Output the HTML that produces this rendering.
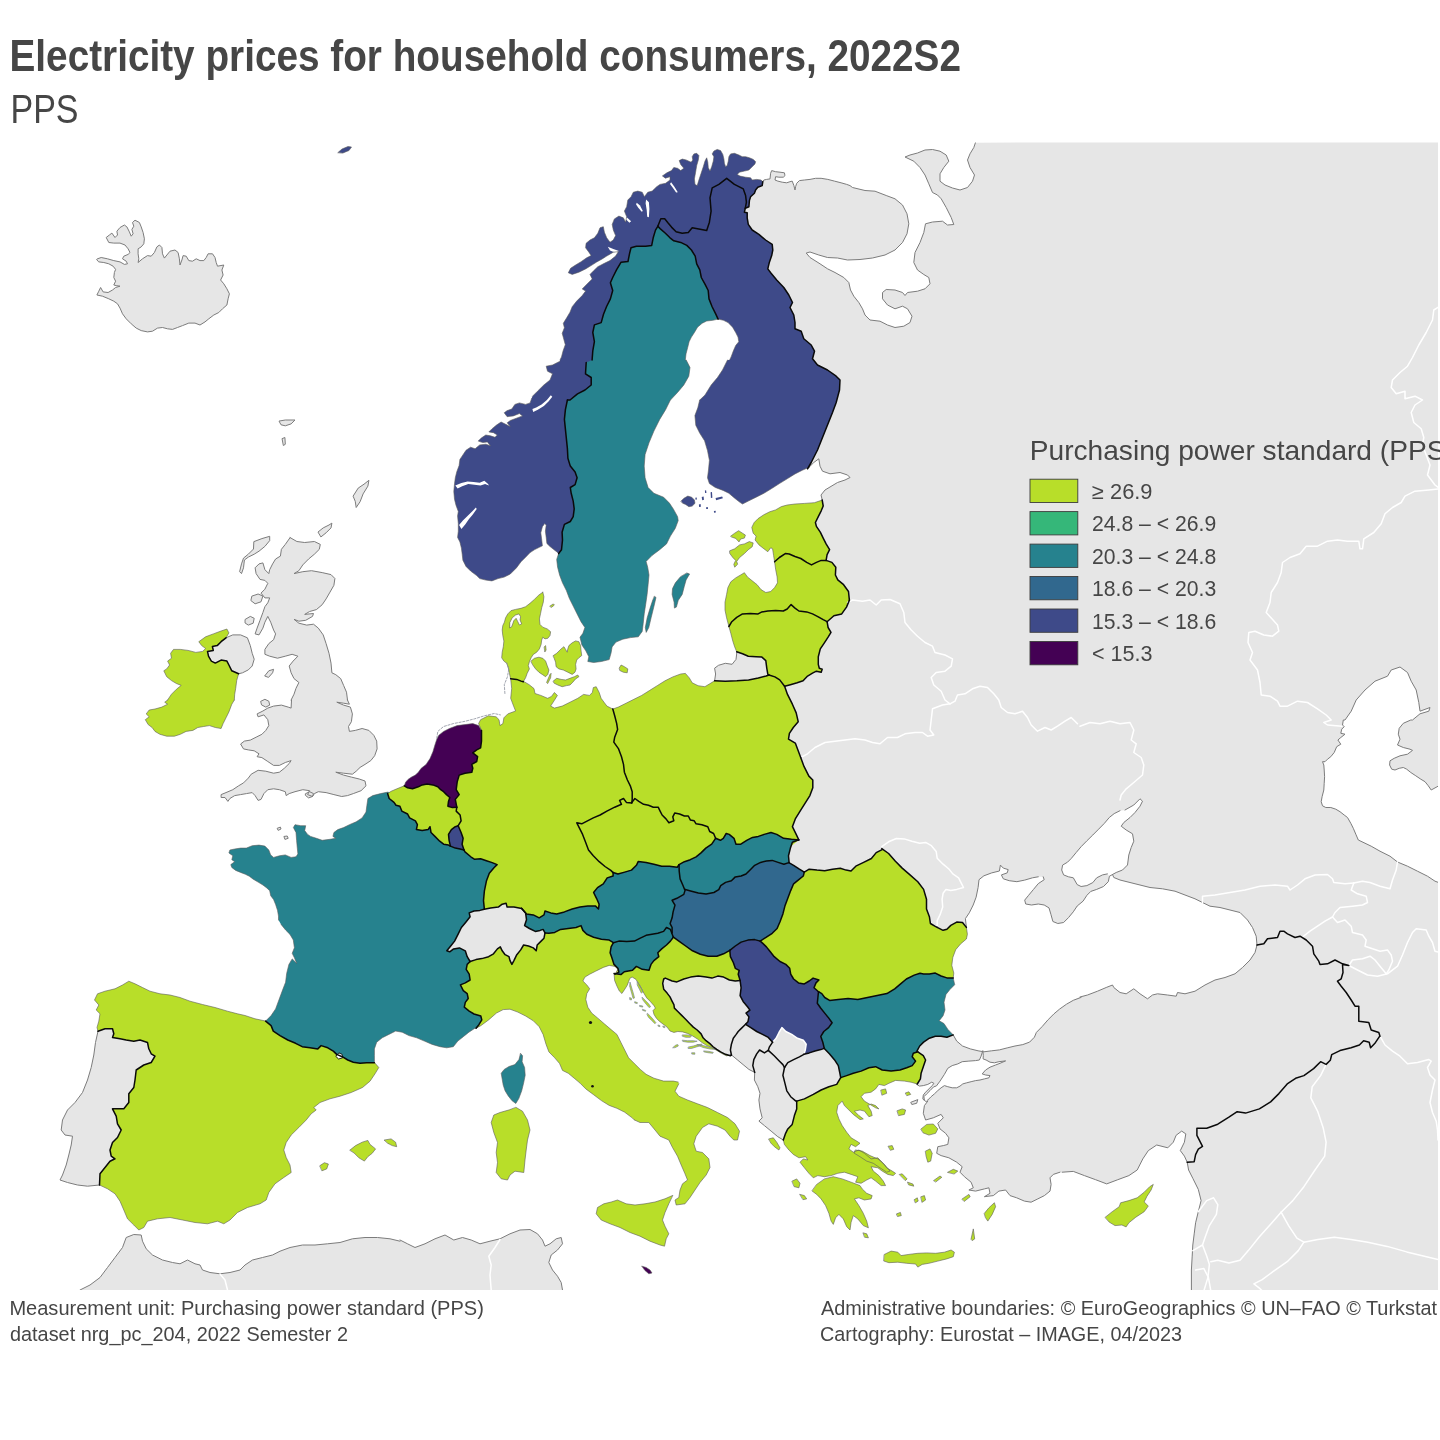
<!DOCTYPE html>
<html lang="en"><head><meta charset="utf-8"><title>Electricity prices for household consumers, 2022S2</title>
<style>
html,body{margin:0;padding:0;background:#fff}
body{width:1440px;height:1440px;position:relative;overflow:hidden;font-family:"Liberation Sans",sans-serif}
.t{font-family:"Liberation Sans",sans-serif;fill:#464646}
</style></head><body>
<svg width="1440" height="1440" viewBox="0 0 1440 1440" style="position:absolute;left:0;top:0">
<defs><clipPath id="mc"><rect x="0" y="142.5" width="1438" height="1147.5"/></clipPath></defs>
<g clip-path="url(#mc)" stroke-linejoin="round" stroke-linecap="round">
<path d="M762.8,181.7 L763.9,180 L766.7,179.4 L770,178.9 L770.6,173.3 L771.7,170.6 L775.6,171.7 L780,172.2 L784.4,172.8 L785,175.6 L783.3,177.2 L778.9,177.2 L775.6,176.7 L775,180 L777.8,181.1 L782.2,182.2 L786.7,182.8 L790,181.7 L792.2,181.1 L793.9,185.6 L795,190 L795.6,186.7 L796.7,183.3 L799.4,180.6 L804.4,180 L810,179.4 L815.6,178.3 L821.1,178.3 L827.8,179.4 L834.4,181.1 L841.1,182.8 L846.7,184.4 L850,185.6 L852.5,187.5 L865,190.5 L875,191.2 L886.2,195.5 L895,198.8 L902.5,205 L907,213.8 L908.8,223.8 L907,233.8 L902.5,242.5 L895,250 L885,255 L872.5,258 L860,259.5 L847.5,260 L837.5,258 L827.5,257.5 L818.8,255 L810,252 L806.2,253 L810,257.5 L820,263.8 L827.5,268.8 L835,272.5 L843.8,277.5 L848.8,282.5 L850.5,290 L853.8,296.2 L858.8,302.5 L862.5,308.8 L865,315 L870,320 L880,321.2 L887.5,325 L895,327.5 L903.8,326.2 L910,322.5 L912,316.2 L907.5,308.8 L902.5,306.2 L895,308.8 L887.5,305 L882.5,298.8 L882.5,292.5 L886.2,289.5 L895,290 L902.5,292.5 L905,295.5 L907.5,292.5 L917.5,291.2 L925,288.8 L930,283.8 L928.8,277.5 L923.8,274.5 L917.5,270 L913.8,262.5 L915,252.5 L920,242.5 L923.8,232.5 L925.5,223.8 L932.5,222 L942.5,221.2 L947.5,225 L953.8,224.5 L951.2,217.5 L946.2,207.5 L941.2,198.8 L937.5,195 L932.5,192.5 L928.8,183.8 L925,175 L920,167.5 L913.8,161.2 L905,157 L910,155 L917.5,153 L925,150 L932.5,149.5 L940,151.2 L946.2,155 L948.8,161.2 L943.8,167.5 L940,173.8 L940,181.2 L945,185 L952.5,188 L960,190 L967.5,187.5 L972.5,181.2 L974.5,175 L970,167.5 L967.5,160 L970,153.8 L973.8,147.5 L975.5,142.5 L1443,137.5 L1443,1295 L1191.4,1295 L1191.4,1290.8 L1191.4,1270 L1192.2,1256.1 L1192.8,1245 L1194.2,1233.9 L1195.6,1222.8 L1198.3,1211.7 L1201.1,1200.6 L1198.3,1189.4 L1192.8,1178.3 L1188.6,1170 L1187.2,1162.2 L1184.4,1156.1 L1180.3,1150.6 L1184.4,1142.2 L1185.8,1133.9 L1181.7,1131.1 L1176.1,1135.3 L1173.3,1142.2 L1167.8,1147.8 L1156.7,1145 L1148.3,1150.6 L1142.8,1158.9 L1137.2,1170 L1128.9,1175.6 L1117.8,1179.7 L1106.7,1183.9 L1095.6,1179.7 L1084.4,1175.6 L1073.3,1171.4 L1062.2,1172.2 L1060,1172.2 L1053.3,1174.4 L1050,1177.8 L1051.1,1184.4 L1050,1191.1 L1044.4,1195.6 L1037.8,1198.9 L1031.1,1202.2 L1024.4,1201.1 L1016.7,1197.8 L1010,1195.6 L1005.6,1190 L998.9,1191.1 L993.3,1195.6 L984.4,1196.7 L990,1193.3 L988.9,1187.8 L984.4,1188.9 L975.6,1191.1 L968.9,1190 L973.3,1187.8 L971.1,1182.2 L964.4,1176.7 L960,1172.2 L962.2,1166.7 L956.7,1162.2 L948.9,1157.8 L941.1,1155.6 L936.7,1153.3 L937.8,1146.7 L943.3,1145.6 L947.8,1144.4 L948.9,1137.8 L945.6,1133.3 L940,1128.9 L937.8,1123.3 L943.3,1117.8 L941.1,1114.4 L933.3,1117.8 L925.6,1120 L923.3,1113.3 L924.4,1105.6 L927.8,1101.1 L924.4,1100.6 L922.8,1098.9 L923.3,1095 L925.6,1092.2 L928.9,1088.9 L932.2,1085.6 L933.9,1083.3 L931.7,1082.2 L927.8,1084.4 L923.3,1085.6 L919.4,1086.1 L916.7,1084.4 L905,1075 L900,1040 L890,950 L780,895 L770,850 L770,800 L740,720 L720,700 L714.6,680.8 L715.6,674 L714.6,668.2 L718.5,665.3 L725.3,663.3 L732.1,664.3 L736,659.4 L736.9,652.1 L750,640 L790,610 L800,570 L800,530 L815,510 L822.2,500.1 L822.5,501 L821,495 L825,490 L830,487 L837.5,482.5 L845,480 L850,477.5 L847.5,475 L840,472.5 L830,473.8 L822.5,471.2 L820,466.2 L818.8,458.8 L813.8,462.5 L807.5,468.8 L790,440 L770,300 L735,240 L740,205 L752,186 L762,180Z" fill="#e6e6e6"/>
<path d="M80,1290 L90,1285 L100,1277.5 L107.5,1267.5 L115,1257.5 L122.5,1247.5 L126.2,1237.5 L133.8,1234.5 L141.2,1235 L142.5,1241.2 L146.2,1248.8 L152.5,1255 L162.5,1260 L172.5,1262.5 L180,1263.8 L187.5,1260 L195,1263.8 L200,1265 L202.5,1270 L210,1272.5 L220,1273.8 L230,1272.5 L240,1270 L245,1265 L252.5,1260 L262.5,1257.5 L272.5,1255 L280,1251.2 L290,1247.5 L302.5,1245 L315,1245 L327.5,1243.8 L340,1242.5 L352.5,1238.8 L365,1237.5 L377.5,1237.5 L390,1238.8 L400,1241.2 L400,1240 L407.5,1243.8 L415,1247.5 L425,1243.8 L435,1238.8 L445,1235 L453.8,1240 L462.5,1237.5 L471.2,1240 L480,1243.8 L490,1241.2 L500,1238.8 L510,1233.8 L520,1230 L530,1229.5 L537.5,1233.8 L542.5,1240 L545,1246.2 L550,1243.8 L556.2,1238.8 L561.2,1237.5 L562.5,1243.8 L557.5,1250 L551.2,1255 L548.8,1262.5 L552.5,1270 L557.5,1276.2 L561.2,1282.5 L562.5,1290 L562.5,1295 L80,1295Z" fill="#e6e6e6"/>
<path d="M98,1031.2 L95.5,1042.5 L93.8,1055 L91.2,1067.5 L87.5,1080 L82.5,1092.5 L75,1102.5 L67.5,1110 L62.5,1120 L61.2,1130 L65,1135 L72.5,1136.2 L71.2,1145 L68.8,1155 L66.2,1165 L62.5,1175 L60,1180 L67.5,1182.5 L77.5,1185 L87.5,1186.2 L99.5,1185 L120,1185 L140,1140 L170,1070 L165,1035 L115,1022 L100,1027Z" fill="#e6e6e6"/>
<path d="M226,637.8 L232.8,634.9 L240.6,634.9 L247.4,637.8 L250.3,645.6 L252.2,653.3 L254.2,659.2 L252.2,666 L248.3,669.9 L242.5,672.8 L238.6,673.8 L220,670 L205,650Z" fill="#e6e6e6"/>
<path d="M290.1,537.6 L296.9,541.5 L304.7,542.5 L314.4,541.5 L320.3,544.4 L319.3,549.3 L314.4,554.2 L308.6,559 L302.8,564.9 L298.9,570.7 L294,573.6 L302.8,571.7 L311.5,570.7 L322.2,572.6 L331,574.6 L334.9,578.5 L333.9,585.3 L330,592.1 L326.1,598.9 L322.2,604.7 L316.4,609.6 L309.6,611.5 L304.7,614.4 L313.5,613.5 L312.5,616.4 L305.7,620.3 L298.9,621.2 L294,619.3 L298.9,623.2 L306.7,625.1 L313.5,624.2 L318.3,628.1 L323.2,634.9 L326.1,643.6 L329,653.3 L331,663.1 L331.9,672.8 L335.8,674.7 L340.7,678.6 L343.6,685.4 L346.5,692.2 L347.5,700 L349.4,704.2 L343.6,703.2 L336.8,702.2 L343.6,705.1 L350.4,707.1 L352.4,713.9 L351.4,721.7 L348.5,726.5 L349.4,731.4 L355.3,730.4 L362.1,728.5 L368.9,730.4 L373.8,735.3 L376.7,741.1 L377.1,748.9 L374.7,755.7 L370.8,760.6 L365,764.4 L360.1,767.4 L356.2,771.2 L352.4,774.2 L343.6,773.2 L335.8,772.2 L343.6,775.1 L351.4,777.1 L359.2,779 L365,781 L366,785.8 L361.1,790.7 L353.3,793.6 L347.5,795.6 L341.7,796.5 L333.9,794.6 L326.1,792.6 L318.3,791.7 L314.4,793.6 L312.5,796.5 L307.6,794.6 L309.6,790.7 L302.8,789.7 L295,791.7 L289.2,793.6 L286.2,795.6 L285.3,791.7 L279.4,789.7 L273.6,788.8 L267.8,789.7 L263.9,793.6 L261,799.4 L258.1,800.4 L255.1,795.6 L252.2,792.6 L246.4,793.6 L240.6,794.6 L234.7,795.6 L229.9,798.5 L227.9,801.4 L225,797.5 L221.1,797.5 L221.1,794.6 L226,792.6 L232.8,789.7 L238.6,785.8 L243.5,782.9 L248.3,778.1 L251.2,774.2 L258.1,770.3 L265.8,771.2 L273.6,773.2 L279.4,772.2 L284.3,768.3 L289.2,763.5 L291.1,760.6 L285.3,762.5 L279.4,765.4 L273.6,765.4 L267.8,761.5 L261.9,757.6 L257.1,756.7 L259,753.8 L254.2,750.8 L248.3,749.9 L243.5,748.9 L240.6,744 L244.4,741.1 L250.3,740.1 L256.1,737.2 L261.9,734.3 L265.8,730.4 L268.8,725.6 L267.8,719.7 L263.9,714.9 L258.1,716.8 L257.1,713.9 L262.9,711 L267.8,708.1 L273.6,706.1 L281.4,705.1 L288.2,707.1 L291.1,708.1 L291.5,700.1 L291.1,700 L294,694.2 L296,688.3 L298.9,682.5 L294,678.6 L291.1,672.8 L289.2,666 L293.1,661.1 L297.9,656.2 L292.1,654.3 L285.3,656.2 L277.5,658.2 L269.7,656.2 L264.9,654.3 L264.9,649.4 L268.8,643.6 L273.6,639.7 L275.6,633.9 L273.6,630 L270.7,622.2 L267.8,616.4 L264.9,622.2 L262.9,628.1 L259,634.9 L255.1,633.9 L257.1,628.1 L260,620.3 L262.9,612.5 L264.9,606.7 L267.8,602.8 L269.7,597.9 L264.9,597.9 L261,593.1 L264.9,589.2 L267.8,583.3 L264.9,580.4 L260,579.4 L256.1,573.6 L255.1,567.8 L259,563.9 L262.9,562.9 L264.9,569.7 L268.8,573.6 L269.7,569.7 L272.6,563.9 L275.6,559 L280.4,556.1 L281.4,549.3 L285.3,544.4 L290.1,537.6Z" fill="#e6e6e6"/>
<path d="M97.5,258.8 L101.2,257.5 L107.5,258.8 L113.8,260.6 L120,261.9 L124.4,264.4 L127.5,263.8 L126.2,261.2 L122.5,258.8 L123.8,256.2 L128.1,254.4 L130,252.5 L128.1,248.8 L125,245 L120,243.1 L113.8,243.1 L108.8,242.5 L106.2,237.5 L109.4,235 L111.9,233.1 L115,237.5 L117.5,235 L116.9,231.2 L120,227.5 L124.4,225 L126.9,226.9 L129.4,231.9 L131.2,236.2 L133.1,233.8 L131.9,229.4 L133.8,226.2 L132.5,222.5 L135,220.2 L139.4,222.5 L141.2,226.9 L143.1,232.5 L144.4,238.8 L143.8,243.8 L141.2,246.9 L138.1,248.8 L138.1,253.8 L138.8,258.8 L138.1,262.5 L142.5,258.8 L147.5,255.6 L151.2,256.2 L154.4,252.5 L156.9,246.9 L159.4,245 L161.9,247.5 L162.5,253.8 L164.4,258.1 L166.9,255 L170,251.2 L175,250 L178.1,252.5 L179.4,258.8 L180,265 L181.9,260 L183.1,255.6 L186.2,256.2 L188.8,260.6 L192.5,261.2 L196.2,258.8 L200,260.6 L203.8,260.6 L206.2,257.5 L208.1,253.8 L212.5,253.8 L215,257.5 L216.2,262.5 L217.5,266.2 L223.8,265 L221.9,270 L223.1,275 L220.6,280 L223.8,283.8 L226.9,288.8 L229.4,293.8 L228.1,298.8 L226.9,305 L222.5,308.8 L218.8,312.5 L213.8,315 L208.8,318.8 L205,321.9 L200,325 L195,323.1 L188.8,323.1 L182.5,325.6 L177.5,327.5 L172.5,329.4 L167.5,328.8 L162.5,327.5 L157.5,328.1 L152.5,331.2 L147.5,331.9 L141.2,330.6 L136.2,328.1 L131.2,323.8 L126.2,318.8 L122.5,313.8 L120,308.1 L117.5,303.8 L113.8,301.2 L108.8,298.8 L102.5,296.2 L96.9,295 L98.8,291.2 L100.6,287.5 L103.1,291.9 L108.1,292.5 L112.5,290 L115.6,287.5 L120,286.2 L116.2,285.6 L113.8,285 L115.6,281.2 L113.8,277.5 L114.4,272.5 L115.6,269.4 L113.1,266.2 L108.8,263.8 L103.8,262.5 L98.8,261.9 L96.9,260Z" fill="#e6e6e6"/>
<path d="M254.2,541.5 L261.9,538.6 L269.7,536.3 L269.7,540.6 L264.9,546.4 L259,551.2 L254.2,554.2 L248.3,557.1 L244.4,560 L243.5,567.8 L241.5,573.6 L239.6,571.7 L241.5,563.9 L243.5,558.1 L248.3,554.2 L253.2,549.3Z" fill="#e6e6e6"/>
<path d="M318.3,531.8 L323.2,527.9 L329,525 L331.9,523.1 L331,527.9 L326.1,532.8 L321.2,536.7Z" fill="#e6e6e6"/>
<path d="M353.3,495.8 L358.2,488.1 L364,484.2 L368.9,480.3 L367.9,486.1 L363.1,493.9 L360.1,501.7 L356.2,507.5 L355.3,501.7Z" fill="#e6e6e6"/>
<path d="M279.4,421 L285.3,420 L295,420 L291.1,423.9 L285.3,425.8 L281.4,424.9Z" fill="#e6e6e6"/>
<path d="M282.4,438.5 L284.9,437.5 L285.3,444.3 L283.7,445.3Z" fill="#e6e6e6"/>
<path d="M245.4,619.3 L250.3,616.4 L254.2,618.3 L253.2,623.2 L248.3,625.1 L245.4,623.2Z" fill="#e6e6e6"/>
<path d="M252.2,596 L258.1,594 L262.9,596 L261,601.8 L255.1,603.8 L251.2,600.8Z" fill="#e6e6e6"/>
<path d="M264.9,675.7 L268.8,670.8 L273.6,669.3 L272.6,672.8 L268.8,677.1Z" fill="#e6e6e6"/>
<path d="M261,701.2 L264.9,699.3 L268.8,701.2 L269.7,705.1 L265.8,707.1 L261.9,705.1Z" fill="#e6e6e6"/>
<path d="M305.7,793.6 L309.6,791.7 L313.5,793.6 L312.5,796.5 L308.6,797.9 L305.7,795.6Z" fill="#e6e6e6"/>
<path d="M284.3,836.4 L287.2,836 L288.2,838.3 L285.3,839.3Z" fill="#e6e6e6"/>
<path d="M277.5,828.2 L280.4,827.1 L281,829 L278.5,830.2Z" fill="#e6e6e6"/>
<path d="M911.1,1102.2 L917.8,1099.6 L916.7,1103.3 L912.2,1104.4Z" fill="#e6e6e6"/>
<path d="M966.4,927.4 L965.4,918.6 L969.3,912.8 L973.2,905 L976.1,897.2 L978.1,887.5 L979,879.7 L983.9,875.8 L991.7,872.9 L999.4,871 L1000.4,865.1 L1003.3,868.1 L1008.2,869.6 L1007.2,872.9 L1001.4,874.9 L1003.3,878.8 L1009.2,880.7 L1016.9,881.7 L1024.7,880.1 L1032.5,877.8 L1038.3,876.8 L1043.2,876.8 L1044.2,879.7 L1038.3,883.6 L1033.5,889.4 L1028.6,895.3 L1024.7,900.1 L1025.7,904 L1031.5,905 L1038.3,904 L1044.2,905 L1049,907.9 L1051,914.7 L1052.9,921.5 L1057.8,923.5 L1063.6,922.5 L1068.5,917.6 L1073.3,911.8 L1077.2,906 L1083.1,901.1 L1086.9,895.3 L1090.8,891.4 L1096.7,889.4 L1103.5,886.5 L1108.3,881.7 L1109.3,876.8 L1112.5,874.5 L1113.8,877.5 L1120,880 L1130,882.5 L1140,885 L1150,887.5 L1162.5,888.8 L1175,891.2 L1185,895 L1195,898.8 L1202.5,902.5 L1210,906.2 L1220,907.5 L1230,910 L1240,912.5 L1247.5,920 L1252.5,927.5 L1256.2,936.2 L1257,945 L1255,952.5 L1250,960 L1242.5,967.5 L1235,973.8 L1225,977.5 L1215,980 L1205,985 L1195,991.2 L1185,993.8 L1177.5,992.5 L1176.2,996.2 L1167.5,995 L1157.5,993.8 L1152.5,995 L1147.5,998.8 L1140,993.8 L1133.8,988.8 L1126.2,993.8 L1120,992.5 L1113.8,987.5 L1112.5,985 L1106.2,987.5 L1097.5,991.2 L1087.5,995 L1080,997 L1073.3,1000.3 L1066.5,1004.2 L1059.7,1009 L1053.9,1013.9 L1048.1,1019.7 L1042.2,1026.5 L1036.4,1032.4 L1034.4,1037.2 L1029.6,1042.1 L1022.8,1044.6 L1015,1046 L1007.2,1047.9 L999.4,1049.9 L991.7,1050.8 L983.9,1051.8 L978.1,1050.8 L970.3,1048.9 L962.5,1046 L956.7,1041.1 L953.2,1034.9 L930,1035 L930,980 L945,945Z" fill="#fff"/>
<path d="M1107.4,873.9 L1102.5,874.9 L1096.7,877.8 L1092.8,882.6 L1086.9,885.6 L1081.1,886.5 L1077.2,884.6 L1073.3,877.8 L1068.5,876.8 L1063.6,874.9 L1061.7,870 L1062.6,865.1 L1067.5,862.2 L1071.4,858.3 L1076.2,852.5 L1081.1,846.7 L1086.9,840.8 L1092.8,835 L1098.6,829.2 L1104.4,823.3 L1109.3,817.5 L1114.2,813.6 L1120,810.7 L1125,810 L1133.8,805 L1140,798.8 L1142.5,801.2 L1140,806.2 L1135,812.5 L1130,817.5 L1123.8,822.5 L1121.2,826.2 L1126.2,830 L1132.5,833.8 L1133.8,841.2 L1131.2,847.5 L1128.8,855 L1127.5,865 L1122.5,870 L1116.2,872.5 L1112.5,874.5 L1109.5,876.2Z" fill="#fff"/>
<path d="M1345,720 L1351.2,711.2 L1356.2,700 L1365,690 L1375,681.2 L1387.5,676.2 L1391.2,670 L1400,667 L1407.5,672.5 L1411.2,681.2 L1416.2,690 L1418.8,702.5 L1420,711.2 L1430,707.5 L1428.8,711.2 L1420,713.8 L1412.5,720 L1410.8,720 L1403.3,723.3 L1399.2,728.3 L1398.3,734.2 L1400,739.2 L1397.5,745 L1403.3,747.5 L1410,749.2 L1412.5,750.4 L1407.5,754.2 L1400,755.8 L1394.2,758.3 L1390,760.8 L1389.6,765 L1391.7,769.2 L1395,770 L1399.2,768.3 L1403.3,767.5 L1406.7,769.2 L1410.8,772.5 L1415.8,775.8 L1420.8,779.2 L1425,781.7 L1428.3,785.8 L1431.2,790 L1438.8,785.8 L1446,786 L1446,883.5 L1441.2,883.5 L1435,881.2 L1427.5,876.2 L1417.5,871.2 L1407.5,866.2 L1397.5,862 L1390,856.2 L1380,851.2 L1371.2,846.2 L1358.3,840 L1355.8,834.2 L1353.3,828.3 L1350.8,823.3 L1347.5,817.5 L1344.2,815 L1340,811.7 L1335.8,809.2 L1330.8,807.5 L1325.8,807.5 L1322.5,805.8 L1321.2,801.7 L1322.1,796.7 L1323.8,790 L1324.2,783.3 L1324.6,776.7 L1324.2,770 L1323.8,765 L1322.5,761.7 L1325,761.7 L1327.5,759.2 L1330.8,756.7 L1334.2,752.5 L1336.7,746.7 L1340.8,744.2 L1337.9,740 L1340.8,737.5 L1345,734.2 L1340.8,733.3 L1341.7,729.2 L1344.2,726.7 L1342.5,725 L1343.3,720Z" fill="#fff"/>
<path d="M936.7,1085.6 L940,1081.1 L944.4,1074.4 L947.8,1068.3 L952.2,1065.6 L957.8,1063.9 L962.2,1061.7 L968.9,1061.1 L975.6,1060.6 L979.4,1060 L981.1,1056.1 L982.8,1050.6 L983.3,1055.6 L983.1,1058.9 L986.1,1060 L990,1062.2 L994.4,1062.8 L998.9,1061.7 L1005.6,1060.9 L1000,1063.3 L995.6,1065 L990,1067.2 L985.6,1070 L982.2,1073.9 L985.6,1075 L990,1075.6 L988.9,1077.8 L984.4,1078.9 L980,1080 L975.6,1080.6 L971.1,1081.7 L966.7,1082.8 L962.8,1083.9 L960,1086.1 L956.7,1087.8 L952.2,1087.8 L947.8,1086.7 L944.4,1085.6 L941.1,1087.8 L937.8,1090.6 L934.4,1093.9 L931.1,1096.7 L927.8,1100 L926.1,1101.7 L924.4,1100.2 L923.9,1096.7 L926.7,1093.9 L930,1090.6 L933.3,1087.2Z" fill="#fff"/>
<path d="M762.8,181.7 L761.1,180 L756.7,179.4 L752.2,180 L750.6,177.8 L745.6,177.2 L740,176.1 L737.2,174.4 L739.4,172.2 L744.4,171.1 L748.9,170 L752.2,166.7 L755,163.9 L755.6,161.7 L753.3,159.4 L749.4,157.8 L745.6,156.7 L742.2,156.7 L738.9,155 L734.4,153.3 L730.6,153.9 L728.9,156.7 L728.3,161.1 L727.2,165.6 L725.6,166.7 L724.4,163.3 L723.9,158.9 L722.8,154.4 L720.6,150.6 L717.2,149.4 L713.9,151.1 L712.2,153.9 L713.9,156.7 L713.3,161.1 L711.7,166.7 L710,171.1 L708.3,167.8 L707.8,162.2 L706.7,157.8 L705,161.1 L703.3,166.7 L701.1,173.3 L698.9,180 L697.2,185.6 L695,184.4 L694.4,178.9 L695.6,172.2 L696.7,165.6 L698.3,160 L698.9,155.6 L696.7,153.3 L693.9,153.9 L692.2,156.7 L692.8,160 L691.1,162.2 L690,161.7 L686,159.9 L682.2,159.1 L679.2,160.6 L680.7,164.4 L683.8,168.3 L680.7,170.6 L677.6,168.3 L673.8,167.5 L671.5,170.6 L666.9,172.8 L662.4,175.9 L665.4,178.2 L670,176.7 L670,180 L665.6,183.3 L660,184.4 L656.7,186.7 L652.2,191.1 L647.8,192.2 L644.4,196.7 L642.2,192.2 L637.8,191.1 L633.3,192.2 L631.1,196.7 L627.8,200 L626.7,206.7 L624.4,211.1 L626.7,216.7 L625.6,222.2 L623.3,217.8 L618.9,216.1 L614.4,218.9 L612.2,224.4 L613.3,230 L615.6,235.6 L613.3,240 L610,242.2 L606.7,237.8 L604.4,232.2 L603.3,226.7 L600,227.8 L597.8,233.3 L594.4,237.8 L590,240 L586.1,243.3 L585.6,247.8 L588.9,252.2 L591.1,255.6 L586.7,257.8 L581.1,261.7 L575.6,265 L570.6,268.3 L568.3,272.8 L572.2,274.4 L578.9,272.2 L585.6,268.9 L591.1,265.6 L596.7,262 L602.2,258.9 L606.7,256.1 L613.3,252.2 L618.3,251.7 L615.6,256.1 L610,260.6 L604.4,263.3 L597.8,266.7 L593.3,271.1 L590,274.4 L592.2,278.9 L587.8,283.3 L582.2,288.9 L585.6,291.1 L582.2,295.6 L576.7,301.1 L572.2,306.7 L570,312.2 L566.7,317.8 L563.3,323.3 L564.4,327.8 L562.2,333.3 L565.3,344.7 L563.1,350.8 L561.5,356.9 L560,360 L560,361.2 L552.5,365 L546.2,366.2 L547.5,371.2 L552.5,373.8 L550,380 L543.8,385 L537.5,391.2 L532.5,396.2 L531.7,398.3 L530.1,402.9 L525.6,404.4 L519.4,402.9 L514.9,404.4 L511.8,409 L507.2,410.6 L504.2,412.8 L507.2,416.7 L513.3,415.9 L519.4,413.6 L522.5,415.9 L516.4,418.2 L510.3,420.5 L507.2,422.8 L510.3,426.6 L505.7,424.3 L501.1,422 L496.5,425.1 L491.9,428.9 L488.9,431.9 L493.5,432.7 L497.3,435 L495,437.3 L490.4,435.8 L485.8,435 L481.2,438.1 L478.2,441.1 L482.8,442.6 L487.4,441.9 L490.4,445.7 L485.8,444.2 L479.7,444.9 L475.1,448.8 L470.6,447.2 L466,450.3 L462.9,454.9 L459.9,459.4 L459.1,465.6 L456.8,471.7 L455.3,477.8 L454.5,483.9 L453.8,491.5 L454.5,499.2 L456,505.3 L458.3,511.4 L457.6,516 L458.3,523.6 L458.3,531.2 L457.6,537.4 L459.9,541.9 L461.4,548.1 L462.2,554.2 L462.9,560.3 L466,566.4 L470.6,571 L476.7,575.6 L479.7,578.6 L485.8,580.1 L491.9,580.9 L498.1,578.6 L504.2,577.1 L510.3,574 L516.4,567.9 L521,561.8 L525.6,557.2 L530.1,552.6 L534.7,549.6 L539.3,547.3 L542.4,545.8 L541.6,538.9 L540.8,532.8 L542.4,526.7 L544.7,523.6 L546.2,525.1 L545.4,531.2 L546.2,537.4 L546.9,543.5 L550,546.5 L553.8,549.6 L556.9,551.9 L558.6,553.6 L575,540 L590,480 L590,420 L605,360 L625,300 L665,255 L700,240 L745.3,208.3 L748.9,206.7 L749.4,200.6 L750.6,196.7 L754.4,193.3 L755.6,190 L757.8,187.2 L762.2,185.6 L762.8,181.7Z" fill="#3e4a89"/>
<path d="M338,152.5 L342,149 L348,146.5 L351.5,147 L349,150.5 L343,153Z" fill="#3e4a89"/>
<path d="M532.4,409 L533.2,412.1 L537.8,409.8 L543.9,406 L548.5,401.4 L552.3,396.8 L550.8,395.3 L546.9,399.9 L541.6,404.4 L536.2,407.5Z" fill="#fff"/>
<path d="M455.3,485.4 L461.4,483.1 L467.5,481.6 L473.6,482.1 L479.7,482.7 L484.3,480.8 L488.1,483.9 L488.9,485.4 L485.1,483.9 L480.5,485.4 L474.4,484.7 L468.3,483.9 L462.2,486.2 L457.6,488.5Z" fill="#fff"/>
<path d="M459.1,525.1 L462.9,520.6 L467.5,516 L472.1,511.4 L475.9,507.6 L476.7,509.1 L472.8,514.4 L469,519 L465.2,524.4 L461.4,529Z" fill="#fff"/>
<path d="M646.1,199.4 L648.9,202.2 L649.4,208.9 L648.9,217.2 L647.2,216.7 L646.7,210 L645.6,203.3Z" fill="#fff"/>
<path d="M636.7,202.8 L640,205.6 L642.8,211.1 L641.7,211.7 L638.3,207.8 L636.1,204.4Z" fill="#fff"/>
<path d="M671.1,182.2 L674.4,186.7 L677.8,192.2 L676.1,192.4 L672.8,187.8 L670,183.9Z" fill="#fff"/>
<path d="M607.8,246.7 L613.3,248.9 L618.9,251.1 L615.6,252.8 L610,250.6Z" fill="#fff"/>
<path d="M626.7,217.2 L631.1,221.3 L629.4,222.8 L625.6,219.1Z" fill="#fff"/>
<path d="M657.8,226.3 L659.3,222.5 L660.8,218.7 L664.7,218.7 L667.7,222.5 L671.5,227.1 L676.1,231.7 L682.2,233.2 L688.3,232.4 L692.2,227.8 L706.7,230.6 L709.4,222.2 L711.1,211.1 L710,197.8 L712.2,187.8 L718.9,184.4 L726.7,178.3 L734.4,184.4 L743.3,188.9 L745.6,195.6 L746.4,202.2 L745.3,208.3 L744.4,212.2 L747.2,212.8 L747.2,217.8 L748.3,224.4 L752.2,230 L758.9,234.4 L765.6,240 L772.2,244.4 L772.8,250 L771.7,255.6 L769.4,262.2 L767.8,268.9 L771.1,273.3 L776.7,280 L783.8,287.5 L788.8,295 L792.5,302.5 L790,307.5 L793.8,315 L795,322.5 L795,328.8 L801.2,331.2 L803.8,338.8 L811.2,345 L814.5,351.2 L812.5,358.8 L817.5,365 L827.5,370 L836.2,376.2 L840,380 L839.5,390 L836.2,402.5 L832.5,412.5 L827.5,425 L822.5,437.5 L817.5,450 L811.2,462.5 L807.5,468.8 L809.6,467.1 L802.8,470 L795,473.9 L787.2,478.8 L779.4,483.6 L771.7,488.5 L763.9,493.3 L756.1,497.2 L748.3,501.1 L742.5,504 L739.6,502.1 L734.7,498.2 L728.9,493.3 L723.1,490.4 L715.3,487.5 L709.4,483.6 L707.5,477.8 L708.5,470 L709.4,460.3 L707.5,450.6 L704.6,440.8 L699.7,433.1 L695.8,425.3 L694.9,415.6 L697.8,407.8 L699.7,400 L705,395 L711.2,385 L717.5,377.5 L722.5,370 L727.5,360 L729.6,360 L731.1,356.9 L733.4,350.8 L735.7,345.5 L738.8,341.7 L738,337.1 L735.7,332.5 L732.6,327.2 L728.1,322.6 L723.5,320.3 L718.1,319.1 L700,310 L660,240Z" fill="#3e4a89"/>
<path d="M681.1,501.1 L683.9,498.3 L687.8,496.1 L691.7,497.2 L694.4,500 L695,503.3 L692.2,506.1 L688.9,506.7 L685.6,504.4 L682.8,503.3Z" fill="#3e4a89"/>
<path d="M701.7,496.9 L703.6,496.4 L704,499.8 L702.2,500.2Z" fill="#3e4a89"/>
<path d="M704.9,490.6 L706.1,490.2 L706.4,492.9 L705.1,493.1Z" fill="#3e4a89"/>
<path d="M710.6,492.2 L712,492 L712.4,497.8 L710.9,498Z" fill="#3e4a89"/>
<path d="M715.6,498 L722.2,496.4 L722.9,498.2 L716.1,500.2Z" fill="#3e4a89"/>
<path d="M698.9,504.4 L700.6,504 L700.9,506.7 L699.1,507.1Z" fill="#3e4a89"/>
<path d="M706.1,507.2 L707.8,507 L708,508.9 L706.2,509.1Z" fill="#3e4a89"/>
<path d="M713.9,510.9 L715.6,510.7 L715.8,512.4 L714.1,512.7Z" fill="#3e4a89"/>
<path d="M695.3,497.8 L696.7,497.6 L696.9,499.6 L695.6,499.8Z" fill="#3e4a89"/>
<path d="M657.8,226.3 L655.5,230.1 L653.2,237.8 L651.7,245.4 L645.6,246.2 L636.4,246.2 L631,247.7 L629.5,253.8 L628,261.5 L621.1,262.2 L616.5,269.9 L612.7,277.5 L610.4,282.8 L612.7,290.5 L610.4,298.9 L606.6,306.5 L603.5,314.2 L601.2,322.6 L594.4,324.9 L592.8,332.5 L594.4,341.7 L592.8,350.8 L592.1,360 L586.2,362.5 L585.5,373.8 L591.2,377.5 L591.2,385 L585,390 L577.5,393.8 L570,400 L567.5,400 L565.4,409.7 L564.4,419.4 L565.4,429.2 L566.4,438.9 L567.4,448.6 L567.9,458.3 L570.3,466.1 L575.1,471.9 L577.1,477.8 L575.1,484.6 L570.3,487.5 L571.2,493.3 L573.2,501.1 L574.2,508.9 L573.2,516.7 L570.3,521.5 L564.4,524.4 L562.1,532.2 L562.5,540 L561.5,549.7 L558.6,553.6 L556.7,559.4 L557.6,567.2 L559.6,575 L562.5,582.8 L566.4,590.6 L569.3,598.3 L573.2,606.1 L577.1,613.9 L581,621.7 L584.9,627.5 L582.9,633.3 L580,637.2 L581.9,645 L585.8,650.8 L588.8,656.7 L587.8,661.5 L593.6,662.5 L601.4,661.5 L609.2,659.6 L611.1,652.8 L612.1,646.9 L616,642.1 L622.8,639.2 L630.6,637.6 L638.3,636.8 L642.2,631.4 L643.2,623.6 L644.2,613.9 L645.7,604.2 L647.1,594.4 L648.1,584.7 L649,575 L647.7,567.2 L646.1,561.4 L651.9,555.6 L659.7,549.7 L666.5,543.9 L670.4,536.1 L675.3,528.3 L678.2,520.6 L677.6,516.7 L673.3,508.9 L669.4,503.1 L663.6,497.2 L653.9,493.3 L648.1,487.5 L645.1,477.8 L644.2,466.1 L645.1,454.4 L649,442.8 L653.9,431.1 L659.7,419.4 L665.6,409.7 L670.4,400 L677.5,392.5 L683.8,385 L688.8,376.2 L690,367.5 L686.2,360 L685.3,360 L686,353.9 L687.6,347.8 L689.1,341.7 L691.4,337.1 L694.4,332.5 L697.5,327.2 L702.1,323.3 L706.7,321 L712.8,320.3 L718.1,319.1 L715.8,314.2 L712,306.5 L709,298.9 L708.2,290.5 L705.1,284.4 L701.3,277.5 L699.8,269.9 L696.7,263.8 L695.2,256.1 L691.4,250 L686.8,245.4 L680.7,242.4 L673.8,240.8 L670,237.8 L665.4,233.2 L660.1,228.6 L657.8,226.3Z" fill="#26828e"/>
<path d="M687.1,573.1 L689.6,574 L686.1,579.9 L684.2,586.7 L682.2,594.4 L678.3,600.3 L676.4,607.1 L674.4,608.1 L674.1,602.2 L672.1,594.4 L672.5,588.6 L675.4,582.8 L680.3,576.9Z" fill="#26828e"/>
<path d="M654.6,596.4 L656,597.4 L654,606.1 L651.1,617.8 L648.8,627.5 L646.2,632.4 L645.3,627.5 L647.2,617.8 L650.1,608.1 L652.7,600.3Z" fill="#26828e"/>
<path d="M387.9,792.1 L380.6,793.6 L372.8,795.6 L367.9,798.5 L366.9,805.3 L366,812.1 L362.1,817.9 L356.2,821.8 L349.4,824.7 L343.6,827.6 L337.8,829.6 L333.9,832.5 L332.9,836.4 L335.8,838.3 L330,839.3 L322.2,840.3 L316.4,838.3 L310.6,836.4 L307.6,834.4 L304.7,830.6 L305.7,825.7 L300.8,825.7 L295,824.7 L293.4,827.6 L296,832.5 L296.6,840.3 L297.3,848.1 L297.9,853.9 L296,856.8 L291.1,857.4 L285.3,854.9 L279.4,855.8 L273.6,857.4 L270.7,854.9 L268.8,850 L264.9,846.1 L259,845.1 L252.2,845.7 L246.4,848.1 L240.6,848.1 L234.7,849 L229.9,850 L228.9,852.9 L232.8,855.8 L231.8,859.7 L234.7,861.7 L230.8,864.6 L231.8,867.5 L235.7,870.4 L240.6,872.4 L245.4,874.3 L249.3,876.2 L253.2,879.2 L258.1,882.1 L262.9,885 L266.8,887.9 L269.7,890.8 L270.7,895.7 L273.6,899.6 L275.6,904.4 L277.5,910.3 L278.5,916.1 L278.5,920 L281.1,924.4 L285.6,930 L290,934.4 L293.3,940 L294.4,947.8 L292.2,953.3 L294.4,957.8 L296.7,963.3 L292.2,958.9 L288.9,964.4 L286.7,973.3 L285.6,982.2 L282.2,991.1 L278.9,1000 L275.6,1008.9 L271.1,1015.6 L265.6,1021.1 L280,1045 L360,1075 L374.4,1062.7 L374.4,1055.6 L374.4,1048.9 L376.7,1042.2 L382.2,1037.8 L388.9,1034.4 L395.6,1031.1 L402.2,1032.2 L408.9,1035.6 L416.7,1037.8 L424.4,1041.1 L432.2,1044.4 L440,1046.7 L446.7,1047.8 L453.3,1046.7 L457.8,1041.1 L463.3,1036.7 L468.9,1032.2 L475.6,1027.8 L476.7,1028.2 L495,1010 L490,960 L490,905 L500,880 L505,850 L470,845 L455,835 L445,825 L420,810 L400,795Z" fill="#26828e"/>
<path d="M520.7,1053.5 L522.6,1055.8 L522.1,1061.7 L524.6,1067.5 L525.2,1075.3 L523.6,1083.1 L521.7,1090.8 L518.8,1098.6 L515.8,1103.5 L511.9,1100.6 L508.1,1095.7 L505.1,1090.8 L503.2,1085 L502.2,1079.2 L501.2,1073.3 L504.2,1069.4 L509,1066.5 L514.9,1064.6 L518.8,1059.7Z" fill="#26828e"/>
<path d="M265.5,1021 L255,1018.8 L245,1015.5 L237.5,1013.8 L227.5,1011.2 L215,1007.5 L202.5,1004.5 L190,1001.2 L180,997.5 L170,995 L160,993.8 L150,991.2 L142.5,987.5 L135,983.8 L128.8,981.2 L122.5,985 L115,988.8 L105,991.2 L97.5,993.8 L94.5,1000 L98.8,1005 L96.2,1010 L100,1013.8 L98.8,1021.2 L97,1027.5 L98,1031.2 L105,1028.8 L112.5,1028.8 L113.8,1033.8 L112.5,1037.5 L120,1038.8 L126.2,1040 L133.8,1041.2 L140,1040 L147.5,1042.5 L148.8,1048.8 L151.2,1053.8 L155,1056.2 L151.2,1062.5 L143.8,1065 L136.2,1070 L135,1080 L133.8,1087.5 L128.8,1093.8 L128.8,1102.5 L123.8,1108.8 L112.5,1108.8 L116.2,1116.2 L117.5,1123.8 L121.2,1130 L117.5,1137.5 L112.5,1142.5 L110,1150 L111.2,1156.2 L115,1158.8 L110,1161.2 L105,1167.5 L100,1173.8 L99.5,1185 L107.5,1188.8 L115,1193.8 L120,1201.2 L123.8,1210 L127.5,1218.8 L133.8,1225 L138.8,1230 L143.8,1227.5 L147.5,1221.2 L157.5,1218.8 L170,1217.5 L182.5,1220 L195,1222.5 L207.5,1223.8 L217.5,1221.2 L223.8,1223.8 L230,1220 L237.5,1212.5 L247.5,1207.5 L260,1203.8 L266.2,1200 L268.8,1192.5 L275,1183.8 L283.8,1177.5 L291.2,1172.5 L290,1165 L286.2,1157.5 L283.8,1150 L286.2,1142.5 L291.2,1135 L298.8,1127.5 L306.2,1120 L311.2,1113.8 L316.2,1110 L313.8,1107.5 L320,1102.5 L330,1098.8 L340,1096.2 L351.2,1092.5 L362.5,1087.5 L370,1081.2 L375,1073.8 L378.8,1067.5 L374.5,1062.5 L374.4,1062.7 L366.7,1062.7 L360,1063.3 L353.3,1062.2 L347.8,1060 L342.2,1056.7 L336.7,1054.4 L333.3,1051.1 L327.8,1047.8 L321.1,1045.6 L317.8,1048.9 L310,1047.8 L302.2,1046.7 L295.6,1043.3 L287.8,1040 L280,1035.6 L273.3,1031.1 L271.1,1025.6 L265.6,1021.1Z" fill="#b8de29"/>
<path d="M350,1150 L355.6,1145.6 L362.2,1142.2 L367.8,1140.4 L370,1144.4 L375.6,1148.9 L372.2,1153.3 L367.8,1156.7 L364.4,1161.1 L358.9,1157.8 L354.4,1153.3Z" fill="#b8de29"/>
<path d="M384.4,1140 L391.1,1138.9 L395.6,1142.2 L396.7,1146.7 L392.2,1145.6 L387.8,1143.3Z" fill="#b8de29"/>
<path d="M320,1165.6 L324.4,1162.7 L328.4,1164 L326.7,1168.9 L322.2,1170.7Z" fill="#b8de29"/>
<path d="M510.7,678.9 L511.7,688.6 L510.7,698.3 L513.6,706.1 L515.6,711 L507.8,713.9 L503.9,717.8 L502.9,723.6 L500,725.6 L499,719.7 L496.1,716.8 L488.3,715.8 L480.6,719.7 L478.6,723.6 L481.5,730.4 L465,740 L448,790 L450,815 L452,840 L464,850 L465,851.9 L470.8,856.8 L474.7,859.3 L480.6,858.8 L486.4,860.7 L492.2,862.6 L497.1,864.6 L494.2,867.5 L489.3,873.3 L486.4,881.1 L484.4,890.8 L483.5,900.6 L484.4,909.3 L500,925 L530,925 L560,920 L600,915 L625,890 L640,870 L650,840 L645,800 L630,750 L625,715 L612.8,709 L606.9,706.1 L604,702.2 L601.1,698.3 L599.2,692.5 L596.2,686.7 L593.3,687.6 L592.4,692.5 L589.4,695.4 L583.6,694.4 L577.8,698.3 L570,702.2 L562.2,706.1 L554.4,708.1 L550.6,706.1 L554.4,700.3 L557.4,695.4 L554.4,692.5 L551.5,696.4 L547.6,698.3 L540.8,695.4 L535,693.5 L534,688.6 L529.2,684.7 L523.3,681.2 L520,670Z" fill="#b8de29"/>
<path d="M612.9,709 L618.3,707.1 L626.1,703.2 L633.9,699.3 L641.7,695.4 L649.4,690.6 L657.2,685.7 L665,680.8 L672.8,676.9 L680.6,674 L685.4,673.4 L689.3,677.9 L692.2,682.8 L698.1,685.7 L704.9,686.7 L709.7,683.8 L714.6,680.8 L725.3,681.2 L736.9,680.8 L748.6,679.9 L758.3,677.9 L766.1,676 L769,675 L774.9,676.9 L779.7,679.9 L784.6,686.3 L787.5,694.4 L792.4,704.2 L796.2,712.9 L798.2,721.7 L793.3,727.5 L789.4,733.3 L788.5,739.2 L795.3,743.1 L798.2,750.8 L800.7,757.6 L804,766.4 L808.9,776.1 L812.8,780 L812.8,787.8 L809.9,795.6 L805,803.3 L800.1,811.1 L795.3,818.9 L792.4,826.7 L796.2,834.4 L798.8,839.9 L780,855 L720,860 L690,850 L650,830 L630,815 L631.8,802.9 L632.2,799.4 L632.2,791.7 L630.3,785.8 L627.4,780 L624.4,772.2 L623.5,764.4 L621.5,756.7 L618.6,748.9 L613.8,742.1 L614.7,737.2 L617.6,729.4 L616.7,723.6 L614.7,715.8 L612.8,709Z" fill="#b8de29"/>
<path d="M631.8,802.9 L626.4,802.4 L623.5,798.5 L619.6,800.4 L621.5,804.3 L614.7,807.2 L606.9,811.1 L600.1,815 L593.3,817.9 L587.5,820.8 L581.7,823.8 L576.8,822.8 L579.7,828.6 L582.6,834.4 L585.6,842.2 L588.5,850 L593.3,855.8 L599.2,861.7 L605,866.5 L610.8,870.4 L612.8,872.4 L640,885 L670,885 L700,870 L720,850 L715.6,838.3 L713.6,833.5 L709.7,831.5 L707.8,826.7 L701.9,824.7 L696.1,823.8 L694.2,820.8 L690.3,819.9 L688.3,816 L684.4,816 L679.6,814 L674.7,813.1 L672.8,816.9 L673.8,820.8 L668.9,822.8 L666,818.9 L662.1,815 L660.1,811.1 L658.2,807.2 L653.3,807.2 L648.5,805.3 L643.6,804.3 L638.8,801.4 L634.9,798.5 L631.9,802.4Z" fill="#b8de29"/>
<path d="M679,864.6 L684.4,861.7 L690.3,859.7 L696.1,856.8 L701,852.9 L705.8,848.1 L711.7,844.2 L715.6,838.3 L720.4,840.3 L723.3,838.3 L726.2,833.5 L729.2,834.4 L734,838.3 L736,844.2 L740.8,844.2 L746.7,840.3 L752.5,837.4 L758.3,836.4 L764.2,834.4 L771,832.5 L776.8,834.4 L783.6,838.3 L791.4,839.3 L798.8,839.9 L792.4,842.2 L790.4,848.1 L788.5,855.8 L789.1,862.6 L785,880 L700,900 L670,890Z" fill="#26828e"/>
<path d="M521.7,908.4 L526.5,913.9 L533.3,914.9 L539.2,917.8 L544,914.9 L545,911 L550.8,912.9 L556.7,913.9 L564.4,911.9 L572.2,909 L580,907.1 L587.8,906.1 L595.6,906.1 L598.5,909 L599.1,904.2 L596.5,898.3 L593.6,892.5 L597.5,887.6 L603.3,883.8 L607.2,877.9 L613.1,876 L613.1,872.5 L617.9,874 L624.7,872.1 L631.5,870.1 L636.4,865.3 L638.3,861.4 L646.1,862.4 L653.9,864.3 L661.7,866.2 L669.4,866.2 L677.2,867.2 L679,864.7 L679.2,871.1 L680.1,878.9 L683.1,885.7 L684.6,889.6 L700,900 L690,935 L660,950 L600,950 L545,945 L515,930Z" fill="#26828e"/>
<path d="M685.3,889.6 L690.6,890.9 L698.3,892.9 L706.1,894.1 L713.9,892.5 L718.8,889.6 L720.7,885.7 L725.6,882.4 L731.4,880.8 L735.3,876.9 L741.1,876 L746,874 L750.8,869.2 L754.7,865.3 L760.6,862.4 L766.4,861 L772.2,860.4 L778.1,862.4 L783.9,864.3 L788.9,862.6 L793.6,865.3 L799.4,869.2 L804.3,872.1 L830,890 L790,960 L740,960 L690,965 L660,950 L672.1,932.4 L672.1,927.5 L670.1,923.6 L672.1,917.8 L673.1,911.9 L675,905.1 L672.1,900.3 L676.9,898.3 L683.8,894.4 L685.3,889.6Z" fill="#31688e"/>
<path d="M476,1028.2 L480.8,1025.7 L488.6,1019.9 L496.4,1013.1 L503.2,1009.6 L510,1009.2 L517.8,1012.1 L525.6,1016 L533.3,1020.8 L539.2,1026.7 L543.1,1034.4 L546,1044.2 L548.9,1051.9 L554.7,1057.8 L559.6,1063.6 L562.5,1070.4 L568.3,1073.3 L574.2,1078.2 L580,1083.1 L585.8,1088.9 L593.6,1094.7 L601.4,1100.6 L609.2,1105.4 L616.9,1108.3 L624.7,1112.2 L632.5,1118.1 L634.4,1120 L640,1122.5 L648.8,1122.5 L655,1130 L660,1136.2 L668.8,1140 L672.5,1147.5 L677.5,1156.2 L681.2,1165 L685,1173.8 L687.5,1180 L682.5,1183.8 L680,1190 L678.8,1197.5 L675,1200 L676.2,1205 L685,1203.8 L690,1197.5 L695,1190 L700,1182.5 L706.2,1175 L710,1167.5 L708.8,1158.8 L702.5,1152.5 L696.2,1151.2 L693.8,1143.8 L696.2,1136.2 L702.5,1127.5 L708.8,1123.8 L717.5,1126.2 L725,1130 L730,1136.2 L733.8,1140 L737.5,1140 L739.5,1131.2 L735,1123.8 L727.5,1117.5 L717.5,1112.5 L707.5,1107.5 L697.5,1103.8 L687.5,1100 L678.8,1096.2 L675,1091.2 L678.8,1083.8 L678.2,1082.1 L673.3,1081.1 L663.6,1081.1 L653.9,1078.2 L646.1,1074.3 L640.3,1069.4 L634.4,1063.6 L628.6,1057.8 L624.7,1050 L620.8,1042.2 L616.9,1034.4 L611.1,1029.6 L604.3,1023.8 L597.5,1017.9 L591.7,1013.1 L587.8,1007.2 L585.8,999.4 L586.8,993.6 L589.7,988.8 L586.8,984.9 L582.9,981 L584.9,977.1 L589.7,974.2 L595.6,971.2 L603.3,967.4 L609.2,965.4 L615,966.4 L617.9,969.3 L615,974.2 L625,965 L625,945 L613.4,942.7 L609.2,940.1 L601.4,939.2 L593.6,937.2 L586.8,934.3 L582.9,930.4 L581,925.6 L576.1,927.5 L568.3,928.5 L560.6,929.4 L554.7,932.4 L548.9,933.3 L545,932.9 L520,935 L480,945 L470.1,961.5 L467.2,964.4 L466.2,969.3 L469.2,974.2 L470.1,980 L465.3,982.9 L460.4,984.9 L463.3,990.7 L467.2,993.6 L468.2,998.5 L465.3,1002.4 L464.3,1007.2 L469.2,1011.1 L474,1014 L480.8,1016 L481.8,1019.9 L478.9,1024.7 L476,1028.2Z" fill="#b8de29"/>
<path d="M672.5,1195.5 L665,1198.8 L655,1202 L645,1203.8 L635,1205 L626.2,1203.8 L617.5,1200 L611.2,1202 L603.8,1203.8 L597.5,1207.5 L596.2,1213.8 L601.2,1220 L610,1223.8 L620,1227.5 L630,1232.5 L640,1236.2 L650,1241.2 L660,1245 L664.5,1246.2 L666.2,1238.8 L668.8,1233.8 L665,1226.2 L662.5,1220 L665,1212.5 L668.8,1203.8Z" fill="#b8de29"/>
<path d="M516.2,1107.5 L522.5,1111.2 L527.5,1120 L530,1130 L527.5,1140 L526.2,1150 L525,1160 L523.8,1172.5 L515,1171.2 L510,1175 L507.5,1180 L501.2,1178.8 L496.2,1172.5 L497.5,1162.5 L496.2,1152.5 L497.5,1142.5 L493.8,1132.5 L491.2,1122.5 L493.8,1115 L500,1112.5 L508.8,1110Z" fill="#b8de29"/>
<path d="M613.4,942.7 L618.9,941.1 L626.7,941.5 L634.4,941.1 L640.3,938.2 L646.1,935.3 L651.9,934.3 L657.8,933.3 L663.6,931.4 L666.5,927.5 L670.4,929.4 L671.8,932.9 L673.3,937.2 L672,950 L650,975 L632,973 L625,978 L614.1,973.6 L615,974.2 L618.9,972.2 L617.9,968.3 L614,964.4 L612.1,958.6 L610.1,952.8 L611.1,946.9 L613.4,942.7Z" fill="#26828e"/>
<path d="M614.1,973.6 L614.6,980.4 L617,986.2 L619.4,991.1 L621.9,993.5 L624.8,989.2 L627.2,985.3 L628.7,981.4 L629.7,978.5 L632.1,977 L636,979.4 L638.9,984.3 L641.8,989.2 L643.8,993.1 L646.7,997.9 L650.6,1001.8 L654,1005.7 L655.4,1008.1 L653,1010.6 L654,1014.4 L656.4,1018.3 L659.3,1021.2 L663.2,1024.2 L667.1,1027.1 L670,1031 L673.9,1032.4 L677.8,1031.5 L682.6,1031.9 L687.5,1033.4 L692.4,1035.8 L697.2,1038.8 L702.1,1042.6 L706.9,1045.6 L711.8,1047.5 L716.7,1050.4 L721.5,1053.3 L726.4,1055.8 L731.4,1054.9 L745,1040 L745,985 L745,960 L729.8,950.4 L723.6,953.8 L716.8,956.3 L708.1,956.3 L700.3,954.3 L692.5,950.8 L685.7,946 L678.9,941.1 L673.4,937.2 L670.4,941.1 L666.5,945 L661.7,948.9 L657.8,952.8 L658.8,956.7 L653.9,960.6 L651,964.4 L649,970.3 L642.2,969.3 L636.4,966.4 L632.5,970.3 L624.3,971.7 L620.9,974.6 L614.1,973.6Z" fill="#b8de29"/>
<path d="M630.1,982.4 L632.1,989.2 L633.5,994 L634.5,997.9 L633.1,998.4 L631.6,993.1 L629.7,986.2Z" fill="#b8de29"/>
<path d="M637.4,981.9 L639.9,985.3 L641.8,989.2 L642.8,992.1 L641.3,993.1 L639.4,989.2 L637.4,985.3Z" fill="#b8de29"/>
<path d="M642.3,997.4 L645.7,1000.8 L648.6,1003.8 L650.6,1006.7 L649.1,1007.6 L646.2,1004.2 L642.8,999.9Z" fill="#b8de29"/>
<path d="M629.9,997.7 L631.3,998.1 L631.5,999.9 L630.1,999.7Z" fill="#b8de29"/>
<path d="M635,1001.8 L637.4,1002.6 L637.2,1003.6 L635,1003Z" fill="#b8de29"/>
<path d="M639.9,1005.5 L642.8,1006.1 L642.6,1007.1 L639.9,1006.5Z" fill="#b8de29"/>
<path d="M642.8,1009.4 L645.7,1010.4 L645.5,1011.3 L642.8,1010.4Z" fill="#b8de29"/>
<path d="M647.6,1013.5 L650.6,1016.4 L654,1020.3 L655.9,1022.7 L654.9,1023.7 L652,1020.8 L648.6,1017.4 L647.2,1014.9Z" fill="#b8de29"/>
<path d="M658.3,1025.1 L659.8,1025.5 L659.9,1026.7 L658.5,1026.3Z" fill="#b8de29"/>
<path d="M663.2,1026.1 L664.7,1026.5 L664.8,1027.7 L663.4,1027.3Z" fill="#b8de29"/>
<path d="M682.6,1034.9 L687.5,1034.9 L691.4,1035.8 L690.4,1037.3 L685.6,1037.3 L682.6,1036.3Z" fill="#b8de29"/>
<path d="M682.6,1040.2 L687.5,1040.7 L693.3,1040.7 L697.2,1041.2 L693.3,1042.2 L687.5,1042.2 L683.1,1041.5Z" fill="#b8de29"/>
<path d="M672.9,1047.5 L675.8,1045.1 L677.8,1044.6 L678.3,1046 L675.3,1047.5Z" fill="#b8de29"/>
<path d="M688.5,1047 L693.3,1046 L698.2,1044.6 L702.1,1044.1 L701.1,1045.6 L696.2,1047 L691.4,1048.5 L688.5,1048.5Z" fill="#b8de29"/>
<path d="M697.2,1044.6 L703.1,1045.6 L708.9,1047 L714.7,1048.5 L715.7,1049.4 L709.9,1049 L703.1,1047.5Z" fill="#b8de29"/>
<path d="M704,1050.9 L708.9,1051.4 L713.3,1052.4 L712.8,1053.3 L707.9,1052.7 L704.2,1051.9Z" fill="#b8de29"/>
<path d="M691.9,1052.8 L694.8,1052.8 L694.8,1054.3 L692.2,1054.1Z" fill="#b8de29"/>
<path d="M760.2,941.1 L766.4,937.2 L772.2,933.3 L777.1,928.5 L780,921.7 L782.9,913.9 L784.9,906.1 L787.8,898.3 L790.7,890.6 L793.6,883.8 L798.5,879.9 L803.3,876 L804.3,872.1 L809.2,869.2 L816.9,870.1 L824.7,870.7 L832.5,869.2 L840.3,868.2 L846.1,870.1 L851,871.1 L855.8,866.2 L863.6,862.4 L871.4,858.5 L876.2,852.6 L882.1,849.7 L881.8,848.6 L888.6,853.5 L895.4,861.2 L902.2,868.1 L910,874.9 L917.8,881.7 L923.6,889.4 L926.5,899.2 L926.5,908.9 L929.4,916.7 L930.4,923.5 L935.3,926.4 L937.2,927.4 L943.1,930.3 L946.9,929.3 L950.8,925.4 L956.7,922.1 L962.5,922.5 L966.4,927.4 L967.4,934.2 L966.4,939 L960.6,943.9 L955.7,949.7 L952.8,957.5 L951.8,965.3 L953.8,973.1 L953.2,977.9 L940,990 L860,1010 L815,1000 L785,985 L765,955Z" fill="#b8de29"/>
<path d="M729.8,950.4 L735.3,946 L741.1,942.1 L747.9,940.1 L754.7,939.6 L760.2,941.1 L762.5,943.1 L766.4,946.9 L770.3,951.8 L774.2,956.7 L780,961.5 L785.8,964.4 L789.7,968.3 L790.7,974.2 L793.6,979 L798.5,982.9 L804.3,983.9 L809.2,981 L813.1,978.1 L818.9,980 L816,982.9 L814,987.8 L818.5,991.7 L835,1010 L840,1040 L830,1065 L790,1060 L760,1045 L735,1020 L738,985 L740.1,980.4 L738.2,974.2 L739.2,970.3 L735.3,968.3 L733.3,962.5 L730.4,956.7 L729.8,950.4Z" fill="#3e4a89"/>
<path d="M824.3,1048.4 L822.8,1042.2 L820.8,1036.4 L823.8,1031.5 L828.6,1027.6 L832.1,1022.8 L828.6,1017.9 L824.7,1013.1 L820.8,1008.2 L817.3,1003.3 L817.9,997.5 L818.5,991.7 L821.8,993.6 L824.7,997.5 L829.6,1000.4 L838.3,999.4 L848.1,998.5 L857.8,999.4 L867.5,997.5 L877.2,995.6 L886.9,993.6 L894.7,988.8 L900.6,983.9 L906.4,979 L914.2,975.1 L920,973.2 L923.6,974 L929.4,974 L935.3,973.1 L941.1,976 L946.9,977.9 L953.2,977.9 L954.7,984.7 L949.9,989.6 L946,994.4 L944,1002.2 L945,1010 L943.1,1015.8 L939.2,1020.7 L944,1023.6 L947.9,1029.4 L953.2,1034.9 L946.9,1037.2 L941.1,1036.2 L935.3,1036.2 L929.4,1038.2 L923.6,1042.1 L919.7,1046 L916.8,1051.4 L919,1062 L905,1075 L850,1090 L830,1075Z" fill="#26828e"/>
<path d="M840.7,1077.6 L846.7,1075.6 L853.3,1073.3 L861.1,1071.1 L868.9,1067.8 L875.6,1066.7 L882.2,1070 L891.1,1071.1 L900,1070 L906.7,1067.8 L912.2,1065.6 L915.6,1061.1 L912.2,1056.7 L913.3,1053.3 L917.8,1051.8 L923.3,1055.6 L925.6,1060 L923.3,1066.7 L921.1,1073.3 L920.4,1078.9 L917.3,1084 L911.1,1082.2 L904.4,1081.1 L895.6,1080.4 L888.9,1083.3 L884.4,1085.6 L878.9,1084.4 L875.6,1088.9 L871.1,1092.2 L864.4,1093.3 L861.1,1096.7 L864.4,1101.1 L870,1104.4 L875.6,1107.8 L878.9,1108.9 L875.6,1105.6 L871.1,1104 L867.8,1105.6 L871.1,1111.1 L872.2,1115.6 L868.9,1116.7 L864.4,1111.1 L860,1110 L854.4,1111.1 L858.9,1115.6 L863.3,1118.9 L860,1119.6 L853.3,1114.4 L848.9,1110 L844.4,1105.6 L842.2,1101.1 L837.8,1105.6 L836.7,1112.2 L838.9,1118.9 L842.2,1125.6 L846.7,1132.2 L851.1,1137.8 L856.7,1141.1 L860,1143.3 L855.6,1146.7 L851.1,1144.4 L848.9,1148.9 L853.3,1152.2 L858.9,1150 L864.4,1153.3 L871.1,1158.9 L877.8,1157.8 L882.2,1162.2 L886.7,1167.8 L892.2,1171.1 L895.6,1173.3 L893.3,1175.6 L887.8,1174.4 L882.2,1171.1 L877.8,1167.8 L871.1,1166.7 L873.3,1171.1 L878.9,1175.6 L883.3,1181.1 L885.6,1185.6 L881.1,1185.6 L875.6,1181.1 L871.1,1177.8 L866.7,1180 L861.1,1183.3 L855.6,1182.2 L857.8,1176.7 L851.1,1174.4 L844.4,1172.2 L837.8,1173.3 L831.1,1175.6 L824.4,1176.7 L817.8,1175.6 L813.3,1177.8 L808.9,1173.3 L804.4,1167.8 L800,1162.2 L803.3,1158.9 L807.8,1160 L805.6,1156.7 L798.9,1157.8 L793.3,1154.4 L788.9,1150 L784.4,1144.4 L783.3,1140 L790,1120 L792,1095 L810,1090 L830,1080Z" fill="#b8de29"/>
<path d="M816.7,1184.4 L824.4,1178.9 L833.3,1176.7 L842.2,1178.9 L851.1,1182.2 L860,1185.6 L862.2,1188.9 L866.7,1193.3 L872.2,1195.6 L871.1,1198.9 L864.4,1200 L858.9,1197.8 L854.4,1198.9 L858.9,1205.6 L863.3,1213.3 L866.7,1221.1 L868.4,1227.8 L863.3,1225.6 L857.8,1218.9 L853.3,1215.6 L851.1,1222.2 L850,1230 L846.7,1226.7 L843.3,1218.9 L838.9,1214.4 L835.6,1217.8 L833.3,1224.4 L831.1,1221.1 L828.9,1213.3 L825.6,1205.6 L821.1,1198.9 L816.7,1194.4 L812.2,1191.1Z" fill="#b8de29"/>
<path d="M855.6,1150 L862.2,1151.1 L870,1155.6 L877.8,1158.9 L884.4,1164.4 L890,1171.1 L886.7,1172.2 L880,1167.8 L873.3,1163.3 L866.7,1161.1 L860,1156.7 L854.4,1153.3Z" fill="#b8de29"/>
<path d="M884.4,1254.4 L891.1,1251.1 L897.8,1252.2 L901.1,1255.6 L908.9,1254.4 L917.8,1253.3 L926.7,1252.9 L935.6,1253.3 L944.4,1252.2 L951.1,1250 L954.4,1252.2 L953.3,1256.7 L946.7,1258.9 L937.8,1261.1 L928.9,1263.3 L922.2,1264.4 L917.8,1267.1 L915.6,1264 L906.7,1263.3 L897.8,1262.2 L888.9,1262.7 L884,1261.1Z" fill="#b8de29"/>
<path d="M768.9,1138.9 L773.3,1137.8 L776.7,1142.2 L780,1147.8 L778.9,1150 L774.4,1146.7 L771.1,1143.3Z" fill="#b8de29"/>
<path d="M792.2,1181.1 L796.7,1178.9 L800,1183.3 L798.9,1187.8 L794.4,1186.7Z" fill="#b8de29"/>
<path d="M800,1194.4 L804.4,1195.6 L806.7,1198.9 L803.3,1199.6Z" fill="#b8de29"/>
<path d="M881.1,1090 L885.6,1088.9 L886.7,1093.3 L882.2,1095.1Z" fill="#b8de29"/>
<path d="M905.6,1092.9 L908.9,1091.8 L910.7,1094.4 L907.1,1095.6Z" fill="#b8de29"/>
<path d="M897.3,1110.7 L902.2,1108.9 L905.6,1110 L904.4,1114.4 L898.9,1115.6Z" fill="#b8de29"/>
<path d="M921.1,1128.9 L926.7,1124.4 L933.3,1124 L937.8,1128.9 L935.6,1133.3 L928.9,1135.1 L923.3,1132.9Z" fill="#b8de29"/>
<path d="M925.6,1151.1 L930,1148.9 L932.2,1153.3 L930.7,1161.1 L927.8,1162.2 L926.2,1156.7Z" fill="#b8de29"/>
<path d="M947.8,1172.2 L953.3,1169.3 L957.8,1171.1 L954.4,1173.8Z" fill="#b8de29"/>
<path d="M933.8,1180.4 L940,1176 L941.8,1177.3 L936,1181.8Z" fill="#b8de29"/>
<path d="M984.4,1213.3 L988.9,1207.8 L994.4,1202.7 L995.6,1206.7 L992.2,1214.4 L987.8,1221.1 L985.6,1217.8Z" fill="#b8de29"/>
<path d="M971.1,1238.9 L973.3,1228.9 L974.7,1238.9 L972.4,1240.4Z" fill="#b8de29"/>
<path d="M962.2,1198.9 L968.9,1194.4 L970.2,1196.7 L964.4,1201.3Z" fill="#b8de29"/>
<path d="M921.1,1196.7 L924.4,1195.6 L925.6,1200 L922.2,1202.2Z" fill="#b8de29"/>
<path d="M914.4,1199.6 L917.3,1197.8 L918.2,1201.1 L915.6,1202.7Z" fill="#b8de29"/>
<path d="M899.6,1174.4 L902.2,1173.8 L907.1,1178.9 L905.6,1180.4Z" fill="#b8de29"/>
<path d="M907.8,1182.2 L912.9,1184 L913.8,1186.2 L908.9,1184.9Z" fill="#b8de29"/>
<path d="M863.3,1232.9 L866.7,1233.8 L868.4,1237.8 L864.9,1237.3Z" fill="#b8de29"/>
<path d="M888.4,1146.2 L892.2,1145.6 L893.8,1149.3 L890.7,1150.2Z" fill="#b8de29"/>
<path d="M896.7,1213.8 L900.4,1212.4 L901.3,1215.6 L897.8,1216.4Z" fill="#b8de29"/>
<path d="M1105.3,1217.2 L1112.2,1211.7 L1119.2,1206.7 L1120.6,1202.8 L1128.9,1200.6 L1137.2,1197.8 L1144.2,1192.2 L1149.7,1186.7 L1153.3,1184.4 L1151.1,1190 L1146.9,1196.4 L1144.2,1201.9 L1148.3,1206.1 L1144.2,1211.7 L1135.8,1217.2 L1128.9,1222.8 L1126.1,1226.9 L1121.9,1225 L1115,1225.6 L1109.4,1222.2Z" fill="#b8de29"/>
<path d="M642,1266.2 L646.2,1267.5 L650,1270 L652,1273 L648.8,1273.8 L645,1270.5Z" fill="#440154"/>
<path d="M740.1,980.4 L735.3,981 L729.4,980 L723.6,977.1 L717.8,976.1 L711.9,978.1 L706.1,977.1 L698.3,976.1 L690.6,977.1 L683.8,979 L676.9,981.9 L672.1,981 L665.3,978.1 L663.7,979 L662.7,983.3 L663.7,989.2 L667.1,993.1 L670,996.9 L671.9,1000.8 L673.9,1004.7 L674.4,1008.1 L677.8,1011.5 L681.7,1015.4 L685.6,1019.3 L689.4,1023.2 L693.3,1027.1 L697.2,1030 L701.1,1033.9 L703.1,1037.8 L706,1040.7 L709.9,1043.6 L712.8,1046.5 L716.7,1049.4 L720.6,1051.9 L725.4,1054.3 L730.3,1055.8 L731.4,1054.9 L737.2,1059.7 L743.1,1064.6 L748.9,1069.4 L754.7,1072.4 L754.4,1080 L757.8,1086.7 L760,1093.3 L758.9,1100 L760,1108.9 L762.2,1117.8 L758.9,1121.1 L764.4,1125.6 L771.1,1131.1 L777.8,1136.7 L783.3,1140 L785.6,1133.3 L787.8,1128.9 L792.2,1124.4 L794.4,1115.6 L796.7,1108.9 L796.7,1101.1 L804.4,1098.9 L813.3,1094.4 L821.1,1090 L828.9,1086.7 L836.7,1084.4 L840.7,1077.6 L839.9,1073.3 L838.3,1065.6 L834.4,1059.7 L829.6,1053.9 L824.3,1048.4 L820.8,1049.6 L815,1051 L809.2,1052.9 L803.9,1054.3 L805.3,1050 L806.2,1044.2 L803.3,1040.3 L797.5,1038.3 L791.7,1034.4 L785.8,1031.5 L781.9,1027.6 L779,1032.5 L776.1,1038.3 L772.6,1042.2 L768.3,1037.4 L762.5,1034.4 L756.7,1031.5 L750.8,1027.6 L745.6,1024.3 L747.9,1021.8 L748.9,1016.9 L746,1013.1 L749.9,1010.1 L747.9,1007.2 L743.1,1001.4 L740.1,995.6 L741.1,987.8 L740.1,980.4Z" fill="#e6e6e6"/>
<path d="M484.3,909.2 L490.6,908.1 L498.3,907.1 L502.2,904.2 L506.1,903.2 L507.1,907.1 L513.9,907.1 L521.7,908.4 L525.6,912.9 L526.5,919.7 L524.6,925.6 L529.4,928.5 L535.3,931.4 L540.1,930.4 L543.1,929.4 L545,932.9 L544,938.2 L541.1,941.1 L537.2,945 L536.2,950.8 L533.3,947.9 L528.5,946 L523.6,945 L520.7,949.9 L516.8,954.7 L513.9,960.6 L511.9,964.4 L510,960.6 L509,956.7 L505.1,954.7 L502.2,950.8 L500.3,946.9 L497.4,948.9 L493.5,953.8 L488.6,956.7 L481.8,958.6 L476,959.6 L470.1,961.5 L467.2,956.7 L465.3,950.8 L459.4,947.9 L453.6,948.9 L449.7,951.8 L446.8,950.8 L450.7,946 L454.6,941.1 L458.5,933.3 L461.4,927.5 L466.2,921.7 L470.1,916.8 L469.2,912.9 L474,911 L479.9,910.4 L484.3,909.2Z" fill="#e6e6e6"/>
<path d="M481.5,730.4 L478.6,725.6 L472.8,723.6 L465,724.6 L457.2,725.6 L449.4,728.5 L443.6,731.4 L438.8,735.3 L436.8,739.2 L434.9,745 L432.9,751.8 L430,758.6 L426.1,764.4 L421.2,768.3 L418.3,772.2 L415.4,775.1 L411.5,777.1 L408.6,779 L405.7,781.9 L404.3,785.8 L410,798 L440,812 L456.8,807.2 L455.3,799.4 L459.2,794.6 L456.2,789.7 L457.2,781.9 L459.2,775.1 L465,773.2 L471.8,772.2 L472.8,768.3 L471.8,764.4 L476.7,761.5 L477.6,756.7 L472.8,752.8 L476.7,749.9 L480.6,747.9 L481.5,741.1 L481.5,730.4Z" fill="#440154"/>
<path d="M404.3,785.8 L396.9,788.8 L391.1,791.3 L387.6,793.6 L389.2,798.5 L394,802.4 L396,805.3 L399.9,806.2 L401.8,811.1 L407.6,814 L409.6,817.9 L415.4,820.8 L417.4,824.7 L416.4,829.6 L422.2,830.6 L428.1,829.6 L430,826.7 L431,832.5 L434.9,836.4 L439.7,841.2 L443.6,844.2 L448.5,845.1 L450.4,846.1 L455,840 L457,830 L458.2,825.7 L461.1,820.8 L460.1,815 L456.2,811.1 L456.8,807.2 L452.4,807.6 L447.9,806.2 L448.5,801.4 L449.8,797.5 L446.5,794.6 L443.6,791.7 L440.7,789.7 L437.8,786.8 L432.9,784.9 L427.1,783.9 L422.2,784.9 L418.3,786.8 L412.5,788.8 L407.6,787.8 L404.3,785.8Z" fill="#b8de29"/>
<path d="M450.4,846.1 L449.1,840.3 L448.5,834.4 L451.4,829.6 L455.3,826.7 L458.2,825.7 L461.1,832.5 L463.1,838.3 L462.1,844.2 L464,850 L460.1,849 L455.3,848.1 L450.4,846.1Z" fill="#3e4a89"/>
<path d="M542.8,592.2 L538.9,595 L534.4,599.4 L530,603.3 L525.6,606.7 L521.1,608.3 L515.6,609.4 L511.1,610.6 L507.8,613.9 L505.6,617.8 L504.4,622.2 L502.8,625.6 L502.2,630 L502.8,635.6 L503.9,641.1 L503.3,646.7 L502.2,652.2 L501.7,657.8 L503.9,661.1 L506.7,663.3 L508.3,667.8 L509.4,673.3 L510.6,678.7 L516.7,679.4 L521.1,681.1 L523.3,681.7 L525.6,677.8 L527.2,673.3 L529.4,668.9 L528.3,665.6 L529.4,661.7 L531.1,657.8 L533.3,654.4 L536.7,652.2 L539.4,648.9 L541.1,644.4 L541.7,640 L542.8,637.2 L545,638.9 L547.8,638.3 L550,635.6 L550.6,631.7 L547.2,628.9 L542.8,627.2 L540,624.4 L539.4,618.9 L540.6,613.3 L541.7,607.8 L543.3,602.2 L543.9,596.7 L542.8,592.2Z" fill="#b8de29"/>
<path d="M510,622.2 L512.2,617.8 L515.6,615 L518.9,613.9 L520.6,616.7 L520,620 L521.7,623.9 L519.4,625 L517.8,621.7 L516.1,618.3 L513.9,620.6 L511.7,626.7 L510,627.8Z" fill="#fff"/>
<path d="M531.1,661.1 L534.4,658.3 L538.9,657.2 L542.8,658.3 L545.6,661.1 L547.2,665.6 L548.9,670 L547.8,674.4 L545.6,676.7 L542.2,674.4 L538.9,672.2 L535.6,668.9 L532.8,665Z" fill="#b8de29"/>
<path d="M553.3,655.6 L556.7,653.3 L561.1,648.9 L563.9,646.7 L565.6,649.4 L567.2,652.2 L567.8,648.9 L568.9,645.6 L572.2,642.8 L575.6,640.9 L578.9,641.7 L580.6,645.6 L581.1,651.1 L581.7,655.6 L578.9,657.8 L576.7,660 L575.6,664.4 L576.1,668.9 L575,672.2 L572.2,674.4 L567.8,672.2 L563.3,670 L558.9,668.9 L556.1,666.7 L555.6,662.2 L554.4,658.9Z" fill="#b8de29"/>
<path d="M553.3,681.1 L556.7,678.3 L561.1,679.4 L565.6,680 L570,678.3 L574.4,676.7 L577.8,675 L578.9,676.7 L575.6,678.9 L572.8,682.2 L570,685 L566.7,685.6 L562.2,686.7 L557.8,685 L554.4,683.3Z" fill="#b8de29"/>
<path d="M619.4,667.8 L621.1,665 L624.4,666.7 L627.8,668.9 L627.2,672.8 L623.3,672.2 L620,670.6Z" fill="#b8de29"/>
<path d="M546.7,682.2 L550,674.4 L551.1,673.3 L550.6,677.8 L547.8,683.3Z" fill="#b8de29"/>
<path d="M550,606.1 L553.3,603.9 L554.4,605 L551.7,607.2Z" fill="#b8de29"/>
<path d="M544.4,646.7 L545.6,645.6 L546.1,650 L545,651.7Z" fill="#b8de29"/>
<path d="M822.2,500.1 L814.4,502.7 L804.7,503.4 L795,504 L787.2,505 L781.4,506.6 L775.6,509.9 L769.7,511.8 L763.9,514.7 L758.1,518.6 L754.2,522.5 L751.8,527.4 L753.2,533.2 L756.1,536.1 L755.1,540 L759,544.9 L763.9,548.8 L767.8,551.7 L770.7,547.8 L772.6,548.8 L773.6,555.6 L774.6,561.8 L790,575 L820,570 L826.1,560.4 L827.1,554.6 L829.6,549.7 L826.1,543.9 L823.2,538.1 L820.3,532.2 L816.4,526.4 L815.4,522.5 L818.3,516.7 L821.2,510.8 L823.2,506 L822.2,500.1Z" fill="#b8de29"/>
<path d="M730.8,536.1 L734.7,533.2 L738.6,530.7 L742.5,533.2 L745.4,535.1 L744.4,538.1 L740.6,539 L739,541.9 L735.7,538.4 L731.8,537.1Z" fill="#b8de29"/>
<path d="M729.9,550.7 L734.7,548.8 L739.6,544.9 L744.4,543.9 L749.3,541.6 L753.2,542.9 L752.2,546.8 L748.3,549.7 L744.4,553.6 L739.6,557.5 L736.7,561.4 L737.6,564.3 L734.7,567.2 L733.8,564.3 L735.7,560.4 L732.8,557.5 L729.9,553.6Z" fill="#b8de29"/>
<path d="M774.6,561.8 L779.4,557.5 L785.3,553.6 L789.2,554 L795,556.5 L800.8,558.5 L806.7,562.4 L811.5,564.9 L816.4,562.4 L821.2,560.4 L826.1,560.4 L831.9,562.4 L835.8,567.2 L835.4,575 L837.8,579.9 L843.6,584.7 L848.5,591.5 L849.4,600.3 L846.5,607.1 L841.7,613.9 L833.9,615.8 L827.1,621.7 L815,635 L760,640 L735,635 L728.9,626.5 L726.6,617.8 L725,610 L725,602.2 L726.6,594.4 L727.9,587.6 L730.8,581.8 L735.7,577.9 L740.6,575 L744.4,572.7 L747.4,576.9 L752.2,580.8 L757.1,584.7 L761,589.6 L765.8,592.5 L770.7,591.5 L774.6,587.6 L777.5,582.8 L777.1,576.9 L775.6,569.2 L774.6,561.8Z" fill="#b8de29"/>
<path d="M728.9,626.5 L730.8,633.3 L732.8,641.1 L734.7,646.9 L736.7,651.8 L742.5,653.8 L748.3,656.3 L756.1,656.7 L761.9,657.1 L765.8,660.6 L766.8,668.3 L767.8,674.2 L768.8,675.1 L769,675 L774.9,676.9 L779.7,679.9 L784.6,686.3 L790.4,684.7 L797.2,682.8 L803.1,680.8 L807.6,676.1 L812.5,673.2 L816.4,671.2 L821.2,672.2 L822.2,669.3 L819.3,668.3 L818.3,664.4 L818.3,656.7 L820.3,648.9 L824.2,643.1 L828.1,637.2 L831,632.4 L828.1,627.5 L827.1,621.7 L823.2,619.7 L818.3,616.8 L812.5,613.9 L806.7,611.9 L798.9,611 L795,608.1 L791.1,604.6 L787.2,609 L783.3,611 L775.6,610.4 L767.8,611 L761.9,611.9 L758.1,613.9 L750.3,613.5 L742.5,613.9 L736.7,617.4 L731.8,621.7 L728.9,626.5Z" fill="#b8de29"/>
<path d="M226,637.8 L228.9,632.9 L226.9,629 L221.1,631 L213.3,633.9 L205.6,636.8 L198.8,641.7 L201.7,645.6 L205.6,648.5 L202.6,651.4 L195.8,652.4 L188.1,650.4 L180.3,649.4 L173.5,649.4 L170.6,653.3 L171.5,658.2 L167.6,661.1 L169.6,665 L166.7,668.9 L163.8,670.8 L166.7,676.7 L171.5,680.6 L176.4,683.5 L181.2,685.4 L176.4,689.3 L171.5,694.2 L167.6,700 L164.7,702.2 L167.6,704.2 L161.8,707.1 L155,709 L149.2,710 L146.2,713.9 L149.2,716.8 L145.3,719.7 L148.2,724.6 L152.1,727.5 L155,731.4 L159.9,734.3 L166.7,736.2 L174.4,736.2 L180.3,734.3 L186.1,731.4 L192.9,730.4 L197.8,727.5 L203.6,726.5 L209.4,725.6 L215.3,727.5 L221.1,728.5 L223.1,723.6 L226,717.8 L228.9,711.9 L231.8,704.2 L234.3,700.1 L234.7,694.2 L235.7,688.3 L236.7,680.6 L238.6,673.8 L231.8,670.8 L228.9,665 L226.9,661.1 L221.1,660.1 L215.3,663.1 L211.4,661.1 L208.5,656.2 L207.5,651.4 L213.3,650.4 L212.4,646.5 L217.2,645.6 L221.1,641.7 L226,637.8Z" fill="#b8de29"/>
<g fill="none" stroke="#7c7c7c" stroke-width="1">
<path d="M762.8,181.7 L763.9,180 L766.7,179.4 L770,178.9 L770.6,173.3 L771.7,170.6 L775.6,171.7 L780,172.2 L784.4,172.8 L785,175.6 L783.3,177.2 L778.9,177.2 L775.6,176.7 L775,180 L777.8,181.1 L782.2,182.2 L786.7,182.8 L790,181.7 L792.2,181.1 L793.9,185.6 L795,190 L795.6,186.7 L796.7,183.3 L799.4,180.6 L804.4,180 L810,179.4 L815.6,178.3 L821.1,178.3 L827.8,179.4 L834.4,181.1 L841.1,182.8 L846.7,184.4 L850,185.6 L852.5,187.5 L865,190.5 L875,191.2 L886.2,195.5 L895,198.8 L902.5,205 L907,213.8 L908.8,223.8 L907,233.8 L902.5,242.5 L895,250 L885,255 L872.5,258 L860,259.5 L847.5,260 L837.5,258 L827.5,257.5 L818.8,255 L810,252 L806.2,253 L810,257.5 L820,263.8 L827.5,268.8 L835,272.5 L843.8,277.5 L848.8,282.5 L850.5,290 L853.8,296.2 L858.8,302.5 L862.5,308.8 L865,315 L870,320 L880,321.2 L887.5,325 L895,327.5 L903.8,326.2 L910,322.5 L912,316.2 L907.5,308.8 L902.5,306.2 L895,308.8 L887.5,305 L882.5,298.8 L882.5,292.5 L886.2,289.5 L895,290 L902.5,292.5 L905,295.5 L907.5,292.5 L917.5,291.2 L925,288.8 L930,283.8 L928.8,277.5 L923.8,274.5 L917.5,270 L913.8,262.5 L915,252.5 L920,242.5 L923.8,232.5 L925.5,223.8 L932.5,222 L942.5,221.2 L947.5,225 L953.8,224.5 L951.2,217.5 L946.2,207.5 L941.2,198.8 L937.5,195 L932.5,192.5 L928.8,183.8 L925,175 L920,167.5 L913.8,161.2 L905,157 L910,155 L917.5,153 L925,150 L932.5,149.5 L940,151.2 L946.2,155 L948.8,161.2 L943.8,167.5 L940,173.8 L940,181.2 L945,185 L952.5,188 L960,190 L967.5,187.5 L972.5,181.2 L974.5,175 L970,167.5 L967.5,160 L970,153.8 L973.8,147.5 L975.5,142.5"/>
<path d="M1187.2,1162.2 L1188.6,1170 L1192.8,1178.3 L1198.3,1189.4 L1201.1,1200.6 L1198.3,1211.7 L1195.6,1222.8 L1194.2,1233.9 L1192.8,1245 L1192.2,1256.1 L1191.4,1270 L1191.4,1290.8"/>
<path d="M1062.2,1172.2 L1073.3,1171.4 L1084.4,1175.6 L1095.6,1179.7 L1106.7,1183.9 L1117.8,1179.7 L1128.9,1175.6 L1137.2,1170 L1142.8,1158.9 L1148.3,1150.6 L1156.7,1145 L1167.8,1147.8 L1173.3,1142.2 L1176.1,1135.3 L1181.7,1131.1 L1185.8,1133.9 L1184.4,1142.2 L1180.3,1150.6 L1184.4,1156.1 L1187.2,1162.2"/>
<path d="M927.8,1101.1 L924.4,1105.6 L923.3,1113.3 L925.6,1120 L933.3,1117.8 L941.1,1114.4 L943.3,1117.8 L937.8,1123.3 L940,1128.9 L945.6,1133.3 L948.9,1137.8 L947.8,1144.4 L943.3,1145.6 L937.8,1146.7 L936.7,1153.3 L941.1,1155.6 L948.9,1157.8 L956.7,1162.2 L962.2,1166.7 L960,1172.2 L964.4,1176.7 L971.1,1182.2 L973.3,1187.8 L968.9,1190 L975.6,1191.1 L984.4,1188.9 L988.9,1187.8 L990,1193.3 L984.4,1196.7 L993.3,1195.6 L998.9,1191.1 L1005.6,1190 L1010,1195.6 L1016.7,1197.8 L1024.4,1201.1 L1031.1,1202.2 L1037.8,1198.9 L1044.4,1195.6 L1050,1191.1 L1051.1,1184.4 L1050,1177.8 L1053.3,1174.4 L1060,1172.2"/>
<path d="M714.6,680.8 L715.6,674 L714.6,668.2 L718.5,665.3 L725.3,663.3 L732.1,664.3 L736,659.4 L736.9,652.1"/>
<path d="M80,1290 L90,1285 L100,1277.5 L107.5,1267.5 L115,1257.5 L122.5,1247.5 L126.2,1237.5 L133.8,1234.5 L141.2,1235 L142.5,1241.2 L146.2,1248.8 L152.5,1255 L162.5,1260 L172.5,1262.5 L180,1263.8 L187.5,1260 L195,1263.8 L200,1265 L202.5,1270 L210,1272.5 L220,1273.8 L230,1272.5 L240,1270 L245,1265 L252.5,1260 L262.5,1257.5 L272.5,1255 L280,1251.2 L290,1247.5 L302.5,1245 L315,1245 L327.5,1243.8 L340,1242.5 L352.5,1238.8 L365,1237.5 L377.5,1237.5 L390,1238.8 L400,1241.2"/>
<path d="M400,1240 L407.5,1243.8 L415,1247.5 L425,1243.8 L435,1238.8 L445,1235 L453.8,1240 L462.5,1237.5 L471.2,1240 L480,1243.8 L490,1241.2 L500,1238.8 L510,1233.8 L520,1230 L530,1229.5 L537.5,1233.8 L542.5,1240 L545,1246.2 L550,1243.8 L556.2,1238.8 L561.2,1237.5 L562.5,1243.8 L557.5,1250 L551.2,1255 L548.8,1262.5 L552.5,1270 L557.5,1276.2 L561.2,1282.5 L562.5,1290"/>
<path d="M98,1031.2 L95.5,1042.5 L93.8,1055 L91.2,1067.5 L87.5,1080 L82.5,1092.5 L75,1102.5 L67.5,1110 L62.5,1120 L61.2,1130 L65,1135 L72.5,1136.2 L71.2,1145 L68.8,1155 L66.2,1165 L62.5,1175 L60,1180 L67.5,1182.5 L77.5,1185 L87.5,1186.2 L99.5,1185"/>
<path d="M226,637.8 L232.8,634.9 L240.6,634.9 L247.4,637.8 L250.3,645.6 L252.2,653.3 L254.2,659.2 L252.2,666 L248.3,669.9 L242.5,672.8 L238.6,673.8"/>
<path d="M290.1,537.6 L296.9,541.5 L304.7,542.5 L314.4,541.5 L320.3,544.4 L319.3,549.3 L314.4,554.2 L308.6,559 L302.8,564.9 L298.9,570.7 L294,573.6 L302.8,571.7 L311.5,570.7 L322.2,572.6 L331,574.6 L334.9,578.5 L333.9,585.3 L330,592.1 L326.1,598.9 L322.2,604.7 L316.4,609.6 L309.6,611.5 L304.7,614.4 L313.5,613.5 L312.5,616.4 L305.7,620.3 L298.9,621.2 L294,619.3 L298.9,623.2 L306.7,625.1 L313.5,624.2 L318.3,628.1 L323.2,634.9 L326.1,643.6 L329,653.3 L331,663.1 L331.9,672.8 L335.8,674.7 L340.7,678.6 L343.6,685.4 L346.5,692.2 L347.5,700"/>
<path d="M347.5,700.1 L349.4,704.2 L343.6,703.2 L336.8,702.2 L343.6,705.1 L350.4,707.1 L352.4,713.9 L351.4,721.7 L348.5,726.5 L349.4,731.4 L355.3,730.4 L362.1,728.5 L368.9,730.4 L373.8,735.3 L376.7,741.1 L377.1,748.9 L374.7,755.7 L370.8,760.6 L365,764.4 L360.1,767.4 L356.2,771.2 L352.4,774.2 L343.6,773.2 L335.8,772.2 L343.6,775.1 L351.4,777.1 L359.2,779 L365,781 L366,785.8 L361.1,790.7 L353.3,793.6 L347.5,795.6 L341.7,796.5 L333.9,794.6 L326.1,792.6 L318.3,791.7 L314.4,793.6 L312.5,796.5 L307.6,794.6 L309.6,790.7 L302.8,789.7 L295,791.7 L289.2,793.6 L286.2,795.6 L285.3,791.7 L279.4,789.7 L273.6,788.8 L267.8,789.7 L263.9,793.6 L261,799.4 L258.1,800.4 L255.1,795.6 L252.2,792.6 L246.4,793.6 L240.6,794.6 L234.7,795.6 L229.9,798.5 L227.9,801.4 L225,797.5 L221.1,797.5 L221.1,794.6 L226,792.6 L232.8,789.7 L238.6,785.8 L243.5,782.9 L248.3,778.1 L251.2,774.2 L258.1,770.3 L265.8,771.2 L273.6,773.2 L279.4,772.2 L284.3,768.3 L289.2,763.5 L291.1,760.6 L285.3,762.5 L279.4,765.4 L273.6,765.4 L267.8,761.5 L261.9,757.6 L257.1,756.7 L259,753.8 L254.2,750.8 L248.3,749.9 L243.5,748.9 L240.6,744 L244.4,741.1 L250.3,740.1 L256.1,737.2 L261.9,734.3 L265.8,730.4 L268.8,725.6 L267.8,719.7 L263.9,714.9 L258.1,716.8 L257.1,713.9 L262.9,711 L267.8,708.1 L273.6,706.1 L281.4,705.1 L288.2,707.1 L291.1,708.1 L291.5,700.1"/>
<path d="M290.1,537.6 L285.3,544.4 L281.4,549.3 L280.4,556.1 L275.6,559 L272.6,563.9 L269.7,569.7 L268.8,573.6 L264.9,569.7 L262.9,562.9 L259,563.9 L255.1,567.8 L256.1,573.6 L260,579.4 L264.9,580.4 L267.8,583.3 L264.9,589.2 L261,593.1 L264.9,597.9 L269.7,597.9 L267.8,602.8 L264.9,606.7 L262.9,612.5 L260,620.3 L257.1,628.1 L255.1,633.9 L259,634.9 L262.9,628.1 L264.9,622.2 L267.8,616.4 L270.7,622.2 L273.6,630 L275.6,633.9 L273.6,639.7 L268.8,643.6 L264.9,649.4 L264.9,654.3 L269.7,656.2 L277.5,658.2 L285.3,656.2 L292.1,654.3 L297.9,656.2 L293.1,661.1 L289.2,666 L291.1,672.8 L294,678.6 L298.9,682.5 L296,688.3 L294,694.2 L291.1,700"/>
<path d="M97.5,258.8 L101.2,257.5 L107.5,258.8 L113.8,260.6 L120,261.9 L124.4,264.4 L127.5,263.8 L126.2,261.2 L122.5,258.8 L123.8,256.2 L128.1,254.4 L130,252.5 L128.1,248.8 L125,245 L120,243.1 L113.8,243.1 L108.8,242.5 L106.2,237.5 L109.4,235 L111.9,233.1 L115,237.5 L117.5,235 L116.9,231.2 L120,227.5 L124.4,225 L126.9,226.9 L129.4,231.9 L131.2,236.2 L133.1,233.8 L131.9,229.4 L133.8,226.2 L132.5,222.5 L135,220.2 L139.4,222.5 L141.2,226.9 L143.1,232.5 L144.4,238.8 L143.8,243.8 L141.2,246.9 L138.1,248.8 L138.1,253.8 L138.8,258.8 L138.1,262.5 L142.5,258.8 L147.5,255.6 L151.2,256.2 L154.4,252.5 L156.9,246.9 L159.4,245 L161.9,247.5 L162.5,253.8 L164.4,258.1 L166.9,255 L170,251.2 L175,250 L178.1,252.5 L179.4,258.8 L180,265 L181.9,260 L183.1,255.6 L186.2,256.2 L188.8,260.6 L192.5,261.2 L196.2,258.8 L200,260.6 L203.8,260.6 L206.2,257.5 L208.1,253.8 L212.5,253.8 L215,257.5 L216.2,262.5 L217.5,266.2 L223.8,265 L221.9,270 L223.1,275 L220.6,280 L223.8,283.8 L226.9,288.8 L229.4,293.8 L228.1,298.8 L226.9,305 L222.5,308.8 L218.8,312.5 L213.8,315 L208.8,318.8 L205,321.9 L200,325 L195,323.1 L188.8,323.1 L182.5,325.6 L177.5,327.5 L172.5,329.4 L167.5,328.8 L162.5,327.5 L157.5,328.1 L152.5,331.2 L147.5,331.9 L141.2,330.6 L136.2,328.1 L131.2,323.8 L126.2,318.8 L122.5,313.8 L120,308.1 L117.5,303.8 L113.8,301.2 L108.8,298.8 L102.5,296.2 L96.9,295 L98.8,291.2 L100.6,287.5 L103.1,291.9 L108.1,292.5 L112.5,290 L115.6,287.5 L120,286.2 L116.2,285.6 L113.8,285 L115.6,281.2 L113.8,277.5 L114.4,272.5 L115.6,269.4 L113.1,266.2 L108.8,263.8 L103.8,262.5 L98.8,261.9 L96.9,260Z"/>
<path d="M254.2,541.5 L261.9,538.6 L269.7,536.3 L269.7,540.6 L264.9,546.4 L259,551.2 L254.2,554.2 L248.3,557.1 L244.4,560 L243.5,567.8 L241.5,573.6 L239.6,571.7 L241.5,563.9 L243.5,558.1 L248.3,554.2 L253.2,549.3Z"/>
<path d="M318.3,531.8 L323.2,527.9 L329,525 L331.9,523.1 L331,527.9 L326.1,532.8 L321.2,536.7Z"/>
<path d="M353.3,495.8 L358.2,488.1 L364,484.2 L368.9,480.3 L367.9,486.1 L363.1,493.9 L360.1,501.7 L356.2,507.5 L355.3,501.7Z"/>
<path d="M279.4,421 L285.3,420 L295,420 L291.1,423.9 L285.3,425.8 L281.4,424.9Z"/>
<path d="M282.4,438.5 L284.9,437.5 L285.3,444.3 L283.7,445.3Z"/>
<path d="M245.4,619.3 L250.3,616.4 L254.2,618.3 L253.2,623.2 L248.3,625.1 L245.4,623.2Z"/>
<path d="M252.2,596 L258.1,594 L262.9,596 L261,601.8 L255.1,603.8 L251.2,600.8Z"/>
<path d="M264.9,675.7 L268.8,670.8 L273.6,669.3 L272.6,672.8 L268.8,677.1Z"/>
<path d="M261,701.2 L264.9,699.3 L268.8,701.2 L269.7,705.1 L265.8,707.1 L261.9,705.1Z"/>
<path d="M305.7,793.6 L309.6,791.7 L313.5,793.6 L312.5,796.5 L308.6,797.9 L305.7,795.6Z"/>
<path d="M284.3,836.4 L287.2,836 L288.2,838.3 L285.3,839.3Z"/>
<path d="M277.5,828.2 L280.4,827.1 L281,829 L278.5,830.2Z"/>
<path d="M911.1,1102.2 L917.8,1099.6 L916.7,1103.3 L912.2,1104.4Z"/>
<path d="M966.4,927.4 L965.4,918.6 L969.3,912.8 L973.2,905 L976.1,897.2 L978.1,887.5 L979,879.7 L983.9,875.8 L991.7,872.9 L999.4,871 L1000.4,865.1 L1003.3,868.1 L1008.2,869.6 L1007.2,872.9 L1001.4,874.9 L1003.3,878.8 L1009.2,880.7 L1016.9,881.7 L1024.7,880.1 L1032.5,877.8 L1038.3,876.8"/>
<path d="M1043.2,876.8 L1044.2,879.7 L1038.3,883.6 L1033.5,889.4 L1028.6,895.3 L1024.7,900.1 L1025.7,904 L1031.5,905 L1038.3,904 L1044.2,905 L1049,907.9 L1051,914.7 L1052.9,921.5 L1057.8,923.5 L1063.6,922.5 L1068.5,917.6 L1073.3,911.8 L1077.2,906 L1083.1,901.1 L1086.9,895.3 L1090.8,891.4 L1096.7,889.4 L1103.5,886.5 L1108.3,881.7 L1109.3,876.8"/>
<path d="M1112.5,874.5 L1113.8,877.5 L1120,880 L1130,882.5 L1140,885 L1150,887.5 L1162.5,888.8 L1175,891.2 L1185,895 L1195,898.8 L1202.5,902.5 L1210,906.2 L1220,907.5 L1230,910 L1240,912.5 L1247.5,920 L1252.5,927.5 L1256.2,936.2 L1257,945 L1255,952.5 L1250,960 L1242.5,967.5 L1235,973.8 L1225,977.5 L1215,980 L1205,985 L1195,991.2 L1185,993.8 L1177.5,992.5 L1176.2,996.2 L1167.5,995 L1157.5,993.8 L1152.5,995 L1147.5,998.8 L1140,993.8 L1133.8,988.8 L1126.2,993.8 L1120,992.5 L1113.8,987.5 L1112.5,985 L1106.2,987.5 L1097.5,991.2 L1087.5,995 L1080,997"/>
<path d="M1107.4,873.9 L1102.5,874.9 L1096.7,877.8 L1092.8,882.6 L1086.9,885.6 L1081.1,886.5 L1077.2,884.6 L1073.3,877.8 L1068.5,876.8 L1063.6,874.9 L1061.7,870 L1062.6,865.1 L1067.5,862.2 L1071.4,858.3 L1076.2,852.5 L1081.1,846.7 L1086.9,840.8 L1092.8,835 L1098.6,829.2 L1104.4,823.3 L1109.3,817.5 L1114.2,813.6 L1120,810.7"/>
<path d="M1125,810 L1133.8,805 L1140,798.8 L1142.5,801.2 L1140,806.2 L1135,812.5 L1130,817.5 L1123.8,822.5 L1121.2,826.2 L1126.2,830 L1132.5,833.8 L1133.8,841.2 L1131.2,847.5 L1128.8,855 L1127.5,865 L1122.5,870 L1116.2,872.5 L1112.5,874.5 L1109.5,876.2"/>
<path d="M1441.2,883.5 L1435,881.2 L1427.5,876.2 L1417.5,871.2 L1407.5,866.2 L1397.5,862 L1390,856.2 L1380,851.2 L1371.2,846.2 L1358.3,840 L1355.8,834.2 L1353.3,828.3 L1350.8,823.3 L1347.5,817.5 L1344.2,815 L1340,811.7 L1335.8,809.2 L1330.8,807.5 L1325.8,807.5 L1322.5,805.8 L1321.2,801.7 L1322.1,796.7 L1323.8,790 L1324.2,783.3 L1324.6,776.7 L1324.2,770 L1323.8,765 L1322.5,761.7 L1325,761.7 L1327.5,759.2 L1330.8,756.7 L1334.2,752.5 L1336.7,746.7 L1340.8,744.2 L1337.9,740 L1340.8,737.5 L1345,734.2 L1340.8,733.3 L1341.7,729.2 L1344.2,726.7 L1342.5,725 L1343.3,720 L1345,720 L1351.2,711.2 L1356.2,700 L1365,690 L1375,681.2 L1387.5,676.2 L1391.2,670 L1400,667 L1407.5,672.5 L1411.2,681.2 L1416.2,690 L1418.8,702.5 L1420,711.2 L1430,707.5 L1428.8,711.2 L1420,713.8 L1412.5,720 L1410.8,720 L1403.3,723.3 L1399.2,728.3 L1398.3,734.2 L1400,739.2 L1397.5,745 L1403.3,747.5 L1410,749.2 L1412.5,750.4 L1407.5,754.2 L1400,755.8 L1394.2,758.3 L1390,760.8 L1389.6,765 L1391.7,769.2 L1395,770 L1399.2,768.3 L1403.3,767.5 L1406.7,769.2 L1410.8,772.5 L1415.8,775.8 L1420.8,779.2 L1425,781.7 L1428.3,785.8 L1431.2,790 L1438.8,785.8"/>
<path d="M936.7,1085.6 L940,1081.1 L944.4,1074.4 L947.8,1068.3 L952.2,1065.6 L957.8,1063.9 L962.2,1061.7 L968.9,1061.1 L975.6,1060.6 L979.4,1060 L981.1,1056.1 L982.8,1050.6 L983.3,1055.6 L983.1,1058.9 L986.1,1060 L990,1062.2 L994.4,1062.8 L998.9,1061.7 L1005.6,1060.9 L1000,1063.3 L995.6,1065 L990,1067.2 L985.6,1070 L982.2,1073.9 L985.6,1075 L990,1075.6 L988.9,1077.8 L984.4,1078.9 L980,1080 L975.6,1080.6 L971.1,1081.7 L966.7,1082.8 L962.8,1083.9 L960,1086.1 L956.7,1087.8 L952.2,1087.8 L947.8,1086.7 L944.4,1085.6 L941.1,1087.8 L937.8,1090.6 L934.4,1093.9 L931.1,1096.7 L927.8,1100 L926.1,1101.7 L924.4,1100.2 L923.9,1096.7 L926.7,1093.9 L930,1090.6 L933.3,1087.2Z"/>
<path d="M731.4,1054.9 L737.2,1059.7 L743.1,1064.6 L748.9,1069.4 L754.7,1072.4"/>
<path d="M754.7,1072.4 L754.4,1080 L757.8,1086.7 L760,1093.3 L758.9,1100 L760,1108.9 L762.2,1117.8 L758.9,1121.1 L764.4,1125.6 L771.1,1131.1 L777.8,1136.7 L783.3,1140"/>
<path d="M1081.1,997.4 L1073.3,1000.3 L1066.5,1004.2 L1059.7,1009 L1053.9,1013.9 L1048.1,1019.7 L1042.2,1026.5 L1036.4,1032.4 L1034.4,1037.2 L1029.6,1042.1 L1022.8,1044.6 L1015,1046 L1007.2,1047.9 L999.4,1049.9 L991.7,1050.8 L983.9,1051.8 L978.1,1050.8 L970.3,1048.9 L962.5,1046 L956.7,1041.1 L953.2,1034.9"/>
<path d="M822.5,501 L821,495 L825,490 L830,487 L837.5,482.5 L845,480 L850,477.5 L847.5,475 L840,472.5 L830,473.8 L822.5,471.2 L820,466.2 L818.8,458.8 L813.8,462.5 L807.5,468.8"/>
<path d="M924.4,1100.6 L922.8,1098.9 L923.3,1095 L925.6,1092.2 L928.9,1088.9 L932.2,1085.6 L933.9,1083.3 L931.7,1082.2 L927.8,1084.4 L923.3,1085.6 L919.4,1086.1 L916.7,1084.4"/>
</g>
<g fill="none" stroke="#5a5a5a" stroke-width="0.6">
<path d="M762.8,181.7 L761.1,180 L756.7,179.4 L752.2,180 L750.6,177.8 L745.6,177.2 L740,176.1 L737.2,174.4 L739.4,172.2 L744.4,171.1 L748.9,170 L752.2,166.7 L755,163.9 L755.6,161.7 L753.3,159.4 L749.4,157.8 L745.6,156.7 L742.2,156.7 L738.9,155 L734.4,153.3 L730.6,153.9 L728.9,156.7 L728.3,161.1 L727.2,165.6 L725.6,166.7 L724.4,163.3 L723.9,158.9 L722.8,154.4 L720.6,150.6 L717.2,149.4 L713.9,151.1 L712.2,153.9 L713.9,156.7 L713.3,161.1 L711.7,166.7 L710,171.1 L708.3,167.8 L707.8,162.2 L706.7,157.8 L705,161.1 L703.3,166.7 L701.1,173.3 L698.9,180 L697.2,185.6 L695,184.4 L694.4,178.9 L695.6,172.2 L696.7,165.6 L698.3,160 L698.9,155.6 L696.7,153.3 L693.9,153.9 L692.2,156.7 L692.8,160 L691.1,162.2 L690,161.7 L686,159.9 L682.2,159.1 L679.2,160.6 L680.7,164.4 L683.8,168.3 L680.7,170.6 L677.6,168.3 L673.8,167.5 L671.5,170.6 L666.9,172.8 L662.4,175.9 L665.4,178.2 L670,176.7 L670,180 L665.6,183.3 L660,184.4 L656.7,186.7 L652.2,191.1 L647.8,192.2 L644.4,196.7 L642.2,192.2 L637.8,191.1 L633.3,192.2 L631.1,196.7 L627.8,200 L626.7,206.7 L624.4,211.1 L626.7,216.7 L625.6,222.2 L623.3,217.8 L618.9,216.1 L614.4,218.9 L612.2,224.4 L613.3,230 L615.6,235.6 L613.3,240 L610,242.2 L606.7,237.8 L604.4,232.2 L603.3,226.7 L600,227.8 L597.8,233.3 L594.4,237.8 L590,240 L586.1,243.3 L585.6,247.8 L588.9,252.2 L591.1,255.6 L586.7,257.8 L581.1,261.7 L575.6,265 L570.6,268.3 L568.3,272.8 L572.2,274.4 L578.9,272.2 L585.6,268.9 L591.1,265.6 L596.7,262 L602.2,258.9 L606.7,256.1 L613.3,252.2 L618.3,251.7 L615.6,256.1 L610,260.6 L604.4,263.3 L597.8,266.7 L593.3,271.1 L590,274.4 L592.2,278.9 L587.8,283.3 L582.2,288.9 L585.6,291.1 L582.2,295.6 L576.7,301.1 L572.2,306.7 L570,312.2 L566.7,317.8 L563.3,323.3 L564.4,327.8 L562.2,333.3 L565.3,344.7 L563.1,350.8 L561.5,356.9 L560,360"/>
<path d="M560,361.2 L552.5,365 L546.2,366.2 L547.5,371.2 L552.5,373.8 L550,380 L543.8,385 L537.5,391.2 L532.5,396.2"/>
<path d="M531.7,398.3 L530.1,402.9 L525.6,404.4 L519.4,402.9 L514.9,404.4 L511.8,409 L507.2,410.6 L504.2,412.8 L507.2,416.7 L513.3,415.9 L519.4,413.6 L522.5,415.9 L516.4,418.2 L510.3,420.5 L507.2,422.8 L510.3,426.6 L505.7,424.3 L501.1,422 L496.5,425.1 L491.9,428.9 L488.9,431.9 L493.5,432.7 L497.3,435 L495,437.3 L490.4,435.8 L485.8,435 L481.2,438.1 L478.2,441.1 L482.8,442.6 L487.4,441.9 L490.4,445.7 L485.8,444.2 L479.7,444.9 L475.1,448.8 L470.6,447.2 L466,450.3 L462.9,454.9 L459.9,459.4 L459.1,465.6 L456.8,471.7 L455.3,477.8 L454.5,483.9 L453.8,491.5 L454.5,499.2 L456,505.3 L458.3,511.4 L457.6,516 L458.3,523.6 L458.3,531.2 L457.6,537.4 L459.9,541.9 L461.4,548.1 L462.2,554.2 L462.9,560.3 L466,566.4 L470.6,571 L476.7,575.6 L479.7,578.6 L485.8,580.1 L491.9,580.9 L498.1,578.6 L504.2,577.1 L510.3,574 L516.4,567.9 L521,561.8 L525.6,557.2 L530.1,552.6 L534.7,549.6 L539.3,547.3 L542.4,545.8 L541.6,538.9 L540.8,532.8 L542.4,526.7 L544.7,523.6 L546.2,525.1 L545.4,531.2 L546.2,537.4 L546.9,543.5 L550,546.5 L553.8,549.6 L556.9,551.9 L558.6,553.6"/>
<path d="M338,152.5 L342,149 L348,146.5 L351.5,147 L349,150.5 L343,153Z"/>
<path d="M699.7,400 L697.8,407.8 L694.9,415.6 L695.8,425.3 L699.7,433.1 L704.6,440.8 L707.5,450.6 L709.4,460.3 L708.5,470 L707.5,477.8 L709.4,483.6 L715.3,487.5 L723.1,490.4 L728.9,493.3 L734.7,498.2 L739.6,502.1 L742.5,504 L748.3,501.1 L756.1,497.2 L763.9,493.3 L771.7,488.5 L779.4,483.6 L787.2,478.8 L795,473.9 L802.8,470 L809.6,467.1"/>
<path d="M718.1,319.1 L723.5,320.3 L728.1,322.6 L732.6,327.2 L735.7,332.5 L738,337.1 L738.8,341.7 L735.7,345.5 L733.4,350.8 L731.1,356.9 L729.6,360"/>
<path d="M727.5,360 L722.5,370 L717.5,377.5 L711.2,385 L705,395 L699.8,400"/>
<path d="M681.1,501.1 L683.9,498.3 L687.8,496.1 L691.7,497.2 L694.4,500 L695,503.3 L692.2,506.1 L688.9,506.7 L685.6,504.4 L682.8,503.3Z"/>
<path d="M558.6,553.6 L556.7,559.4 L557.6,567.2 L559.6,575 L562.5,582.8 L566.4,590.6 L569.3,598.3 L573.2,606.1 L577.1,613.9 L581,621.7 L584.9,627.5 L582.9,633.3 L580,637.2 L581.9,645 L585.8,650.8 L588.8,656.7 L587.8,661.5 L593.6,662.5 L601.4,661.5 L609.2,659.6 L611.1,652.8 L612.1,646.9 L616,642.1 L622.8,639.2 L630.6,637.6 L638.3,636.8 L642.2,631.4 L643.2,623.6 L644.2,613.9 L645.7,604.2 L647.1,594.4 L648.1,584.7 L649,575 L647.7,567.2 L646.1,561.4 L651.9,555.6 L659.7,549.7 L666.5,543.9 L670.4,536.1 L675.3,528.3 L678.2,520.6 L677.6,516.7 L673.3,508.9 L669.4,503.1 L663.6,497.2 L653.9,493.3 L648.1,487.5 L645.1,477.8 L644.2,466.1 L645.1,454.4 L649,442.8 L653.9,431.1 L659.7,419.4 L665.6,409.7 L670.4,400"/>
<path d="M718.1,319.1 L712.8,320.3 L706.7,321 L702.1,323.3 L697.5,327.2 L694.4,332.5 L691.4,337.1 L689.1,341.7 L687.6,347.8 L686,353.9 L685.3,360"/>
<path d="M686.2,360 L690,367.5 L688.8,376.2 L683.8,385 L677.5,392.5 L670.5,400"/>
<path d="M687.1,573.1 L689.6,574 L686.1,579.9 L684.2,586.7 L682.2,594.4 L678.3,600.3 L676.4,607.1 L674.4,608.1 L674.1,602.2 L672.1,594.4 L672.5,588.6 L675.4,582.8 L680.3,576.9Z"/>
<path d="M654.6,596.4 L656,597.4 L654,606.1 L651.1,617.8 L648.8,627.5 L646.2,632.4 L645.3,627.5 L647.2,617.8 L650.1,608.1 L652.7,600.3Z"/>
<path d="M387.9,792.1 L380.6,793.6 L372.8,795.6 L367.9,798.5 L366.9,805.3 L366,812.1 L362.1,817.9 L356.2,821.8 L349.4,824.7 L343.6,827.6 L337.8,829.6 L333.9,832.5 L332.9,836.4 L335.8,838.3 L330,839.3 L322.2,840.3 L316.4,838.3 L310.6,836.4 L307.6,834.4 L304.7,830.6 L305.7,825.7 L300.8,825.7 L295,824.7 L293.4,827.6 L296,832.5 L296.6,840.3 L297.3,848.1 L297.9,853.9 L296,856.8 L291.1,857.4 L285.3,854.9 L279.4,855.8 L273.6,857.4 L270.7,854.9 L268.8,850 L264.9,846.1 L259,845.1 L252.2,845.7 L246.4,848.1 L240.6,848.1 L234.7,849 L229.9,850 L228.9,852.9 L232.8,855.8 L231.8,859.7 L234.7,861.7 L230.8,864.6 L231.8,867.5 L235.7,870.4 L240.6,872.4 L245.4,874.3 L249.3,876.2 L253.2,879.2 L258.1,882.1 L262.9,885 L266.8,887.9 L269.7,890.8 L270.7,895.7 L273.6,899.6 L275.6,904.4 L277.5,910.3 L278.5,916.1 L278.5,920"/>
<path d="M374.4,1062.7 L374.4,1055.6 L374.4,1048.9 L376.7,1042.2 L382.2,1037.8 L388.9,1034.4 L395.6,1031.1 L402.2,1032.2 L408.9,1035.6 L416.7,1037.8 L424.4,1041.1 L432.2,1044.4 L440,1046.7 L446.7,1047.8 L453.3,1046.7 L457.8,1041.1 L463.3,1036.7 L468.9,1032.2 L475.6,1027.8 L476.7,1028.2"/>
<path d="M520.7,1053.5 L522.6,1055.8 L522.1,1061.7 L524.6,1067.5 L525.2,1075.3 L523.6,1083.1 L521.7,1090.8 L518.8,1098.6 L515.8,1103.5 L511.9,1100.6 L508.1,1095.7 L505.1,1090.8 L503.2,1085 L502.2,1079.2 L501.2,1073.3 L504.2,1069.4 L509,1066.5 L514.9,1064.6 L518.8,1059.7Z"/>
<path d="M265.5,1021 L255,1018.8 L245,1015.5 L237.5,1013.8 L227.5,1011.2 L215,1007.5 L202.5,1004.5 L190,1001.2 L180,997.5 L170,995 L160,993.8 L150,991.2 L142.5,987.5 L135,983.8 L128.8,981.2 L122.5,985 L115,988.8 L105,991.2 L97.5,993.8 L94.5,1000 L98.8,1005 L96.2,1010 L100,1013.8 L98.8,1021.2 L97,1027.5 L98,1031.2"/>
<path d="M99.5,1185 L107.5,1188.8 L115,1193.8 L120,1201.2 L123.8,1210 L127.5,1218.8 L133.8,1225 L138.8,1230 L143.8,1227.5 L147.5,1221.2 L157.5,1218.8 L170,1217.5 L182.5,1220 L195,1222.5 L207.5,1223.8 L217.5,1221.2 L223.8,1223.8 L230,1220 L237.5,1212.5 L247.5,1207.5 L260,1203.8 L266.2,1200 L268.8,1192.5 L275,1183.8 L283.8,1177.5 L291.2,1172.5 L290,1165 L286.2,1157.5 L283.8,1150 L286.2,1142.5 L291.2,1135 L298.8,1127.5 L306.2,1120 L311.2,1113.8 L316.2,1110 L313.8,1107.5 L320,1102.5 L330,1098.8 L340,1096.2 L351.2,1092.5 L362.5,1087.5 L370,1081.2 L375,1073.8 L378.8,1067.5 L374.5,1062.5"/>
<path d="M350,1150 L355.6,1145.6 L362.2,1142.2 L367.8,1140.4 L370,1144.4 L375.6,1148.9 L372.2,1153.3 L367.8,1156.7 L364.4,1161.1 L358.9,1157.8 L354.4,1153.3Z"/>
<path d="M384.4,1140 L391.1,1138.9 L395.6,1142.2 L396.7,1146.7 L392.2,1145.6 L387.8,1143.3Z"/>
<path d="M320,1165.6 L324.4,1162.7 L328.4,1164 L326.7,1168.9 L322.2,1170.7Z"/>
<path d="M510.7,678.9 L511.7,688.6 L510.7,698.3 L513.6,706.1 L515.6,711 L507.8,713.9 L503.9,717.8 L502.9,723.6 L500,725.6 L499,719.7 L496.1,716.8 L488.3,715.8 L480.6,719.7 L478.6,723.6 L481.5,730.4"/>
<path d="M523.3,681.2 L529.2,684.7 L534,688.6 L535,693.5 L540.8,695.4 L547.6,698.3 L551.5,696.4 L554.4,692.5 L557.4,695.4 L554.4,700.3 L550.6,706.1 L554.4,708.1 L562.2,706.1 L570,702.2 L577.8,698.3 L583.6,694.4 L589.4,695.4 L592.4,692.5 L593.3,687.6 L596.2,686.7 L599.2,692.5 L601.1,698.3 L604,702.2 L606.9,706.1 L612.8,709"/>
<path d="M612.9,709 L618.3,707.1 L626.1,703.2 L633.9,699.3 L641.7,695.4 L649.4,690.6 L657.2,685.7 L665,680.8 L672.8,676.9 L680.6,674 L685.4,673.4 L689.3,677.9 L692.2,682.8 L698.1,685.7 L704.9,686.7 L709.7,683.8 L714.6,680.8"/>
<path d="M476,1028.2 L480.8,1025.7 L488.6,1019.9 L496.4,1013.1 L503.2,1009.6 L510,1009.2 L517.8,1012.1 L525.6,1016 L533.3,1020.8 L539.2,1026.7 L543.1,1034.4 L546,1044.2 L548.9,1051.9 L554.7,1057.8 L559.6,1063.6 L562.5,1070.4 L568.3,1073.3 L574.2,1078.2 L580,1083.1 L585.8,1088.9 L593.6,1094.7 L601.4,1100.6 L609.2,1105.4 L616.9,1108.3 L624.7,1112.2 L632.5,1118.1 L634.4,1120"/>
<path d="M634.5,1120 L640,1122.5 L648.8,1122.5 L655,1130 L660,1136.2 L668.8,1140 L672.5,1147.5 L677.5,1156.2 L681.2,1165 L685,1173.8 L687.5,1180 L682.5,1183.8 L680,1190 L678.8,1197.5 L675,1200 L676.2,1205 L685,1203.8 L690,1197.5 L695,1190 L700,1182.5 L706.2,1175 L710,1167.5 L708.8,1158.8 L702.5,1152.5 L696.2,1151.2 L693.8,1143.8 L696.2,1136.2 L702.5,1127.5 L708.8,1123.8 L717.5,1126.2 L725,1130 L730,1136.2 L733.8,1140 L737.5,1140 L739.5,1131.2 L735,1123.8 L727.5,1117.5 L717.5,1112.5 L707.5,1107.5 L697.5,1103.8 L687.5,1100 L678.8,1096.2 L675,1091.2 L678.8,1083.8"/>
<path d="M672.5,1195.5 L665,1198.8 L655,1202 L645,1203.8 L635,1205 L626.2,1203.8 L617.5,1200 L611.2,1202 L603.8,1203.8 L597.5,1207.5 L596.2,1213.8 L601.2,1220 L610,1223.8 L620,1227.5 L630,1232.5 L640,1236.2 L650,1241.2 L660,1245 L664.5,1246.2 L666.2,1238.8 L668.8,1233.8 L665,1226.2 L662.5,1220 L665,1212.5 L668.8,1203.8Z"/>
<path d="M516.2,1107.5 L522.5,1111.2 L527.5,1120 L530,1130 L527.5,1140 L526.2,1150 L525,1160 L523.8,1172.5 L515,1171.2 L510,1175 L507.5,1180 L501.2,1178.8 L496.2,1172.5 L497.5,1162.5 L496.2,1152.5 L497.5,1142.5 L493.8,1132.5 L491.2,1122.5 L493.8,1115 L500,1112.5 L508.8,1110Z"/>
<path d="M615,974.2 L614.1,973.6"/>
<path d="M966.4,927.4 L967.4,934.2 L966.4,939 L960.6,943.9 L955.7,949.7 L952.8,957.5 L951.8,965.3 L953.8,973.1 L953.2,977.9"/>
<path d="M953.2,977.9 L954.7,984.7 L949.9,989.6 L946,994.4 L944,1002.2 L945,1010 L943.1,1015.8 L939.2,1020.7 L944,1023.6 L947.9,1029.4 L953.2,1034.9"/>
<path d="M917.3,1084 L911.1,1082.2 L904.4,1081.1 L895.6,1080.4 L888.9,1083.3 L884.4,1085.6 L878.9,1084.4 L875.6,1088.9 L871.1,1092.2 L864.4,1093.3 L861.1,1096.7 L864.4,1101.1 L870,1104.4 L875.6,1107.8 L878.9,1108.9 L875.6,1105.6 L871.1,1104 L867.8,1105.6 L871.1,1111.1 L872.2,1115.6 L868.9,1116.7 L864.4,1111.1 L860,1110 L854.4,1111.1 L858.9,1115.6 L863.3,1118.9 L860,1119.6 L853.3,1114.4 L848.9,1110 L844.4,1105.6 L842.2,1101.1 L837.8,1105.6 L836.7,1112.2 L838.9,1118.9 L842.2,1125.6 L846.7,1132.2 L851.1,1137.8 L856.7,1141.1 L860,1143.3 L855.6,1146.7 L851.1,1144.4 L848.9,1148.9 L853.3,1152.2 L858.9,1150 L864.4,1153.3 L871.1,1158.9 L877.8,1157.8 L882.2,1162.2 L886.7,1167.8 L892.2,1171.1 L895.6,1173.3 L893.3,1175.6 L887.8,1174.4 L882.2,1171.1 L877.8,1167.8 L871.1,1166.7 L873.3,1171.1 L878.9,1175.6 L883.3,1181.1 L885.6,1185.6 L881.1,1185.6 L875.6,1181.1 L871.1,1177.8 L866.7,1180 L861.1,1183.3 L855.6,1182.2 L857.8,1176.7 L851.1,1174.4 L844.4,1172.2 L837.8,1173.3 L831.1,1175.6 L824.4,1176.7 L817.8,1175.6 L813.3,1177.8 L808.9,1173.3 L804.4,1167.8 L800,1162.2 L803.3,1158.9 L807.8,1160 L805.6,1156.7 L798.9,1157.8 L793.3,1154.4 L788.9,1150 L784.4,1144.4 L783.3,1140"/>
<path d="M1105.3,1217.2 L1112.2,1211.7 L1119.2,1206.7 L1120.6,1202.8 L1128.9,1200.6 L1137.2,1197.8 L1144.2,1192.2 L1149.7,1186.7 L1153.3,1184.4 L1151.1,1190 L1146.9,1196.4 L1144.2,1201.9 L1148.3,1206.1 L1144.2,1211.7 L1135.8,1217.2 L1128.9,1222.8 L1126.1,1226.9 L1121.9,1225 L1115,1225.6 L1109.4,1222.2Z"/>
<path d="M642,1266.2 L646.2,1267.5 L650,1270 L652,1273 L648.8,1273.8 L645,1270.5Z"/>
<path d="M481.5,730.4 L478.6,725.6 L472.8,723.6 L465,724.6 L457.2,725.6 L449.4,728.5 L443.6,731.4 L438.8,735.3 L436.8,739.2 L434.9,745 L432.9,751.8 L430,758.6 L426.1,764.4 L421.2,768.3 L418.3,772.2 L415.4,775.1 L411.5,777.1 L408.6,779 L405.7,781.9 L404.3,785.8"/>
<path d="M404.3,785.8 L396.9,788.8 L391.1,791.3 L387.6,793.6"/>
<path d="M531.1,661.1 L534.4,658.3 L538.9,657.2 L542.8,658.3 L545.6,661.1 L547.2,665.6 L548.9,670 L547.8,674.4 L545.6,676.7 L542.2,674.4 L538.9,672.2 L535.6,668.9 L532.8,665Z"/>
<path d="M553.3,655.6 L556.7,653.3 L561.1,648.9 L563.9,646.7 L565.6,649.4 L567.2,652.2 L567.8,648.9 L568.9,645.6 L572.2,642.8 L575.6,640.9 L578.9,641.7 L580.6,645.6 L581.1,651.1 L581.7,655.6 L578.9,657.8 L576.7,660 L575.6,664.4 L576.1,668.9 L575,672.2 L572.2,674.4 L567.8,672.2 L563.3,670 L558.9,668.9 L556.1,666.7 L555.6,662.2 L554.4,658.9Z"/>
<path d="M553.3,681.1 L556.7,678.3 L561.1,679.4 L565.6,680 L570,678.3 L574.4,676.7 L577.8,675 L578.9,676.7 L575.6,678.9 L572.8,682.2 L570,685 L566.7,685.6 L562.2,686.7 L557.8,685 L554.4,683.3Z"/>
<path d="M619.4,667.8 L621.1,665 L624.4,666.7 L627.8,668.9 L627.2,672.8 L623.3,672.2 L620,670.6Z"/>
<path d="M546.7,682.2 L550,674.4 L551.1,673.3 L550.6,677.8 L547.8,683.3Z"/>
<path d="M550,606.1 L553.3,603.9 L554.4,605 L551.7,607.2Z"/>
<path d="M544.4,646.7 L545.6,645.6 L546.1,650 L545,651.7Z"/>
<path d="M510,622.2 L512.2,617.8 L515.6,615 L518.9,613.9 L520.6,616.7 L520,620 L521.7,623.9 L519.4,625 L517.8,621.7 L516.1,618.3 L513.9,620.6 L511.7,626.7 L510,627.8Z"/>
<path d="M542.8,592.2 L538.9,595 L534.4,599.4 L530,603.3 L525.6,606.7 L521.1,608.3 L515.6,609.4 L511.1,610.6 L507.8,613.9 L505.6,617.8 L504.4,622.2 L502.8,625.6 L502.2,630 L502.8,635.6 L503.9,641.1 L503.3,646.7 L502.2,652.2 L501.7,657.8 L503.9,661.1 L506.7,663.3 L508.3,667.8 L509.4,673.3 L510.6,678.7"/>
<path d="M523.3,681.7 L525.6,677.8 L527.2,673.3 L529.4,668.9 L528.3,665.6 L529.4,661.7 L531.1,657.8 L533.3,654.4 L536.7,652.2 L539.4,648.9 L541.1,644.4 L541.7,640 L542.8,637.2 L545,638.9 L547.8,638.3 L550,635.6 L550.6,631.7 L547.2,628.9 L542.8,627.2 L540,624.4 L539.4,618.9 L540.6,613.3 L541.7,607.8 L543.3,602.2 L543.9,596.7 L542.8,592.2"/>
<path d="M822.2,500.1 L814.4,502.7 L804.7,503.4 L795,504 L787.2,505 L781.4,506.6 L775.6,509.9 L769.7,511.8 L763.9,514.7 L758.1,518.6 L754.2,522.5 L751.8,527.4 L753.2,533.2 L756.1,536.1 L755.1,540 L759,544.9 L763.9,548.8 L767.8,551.7 L770.7,547.8 L772.6,548.8 L773.6,555.6 L774.6,561.8"/>
<path d="M730.8,536.1 L734.7,533.2 L738.6,530.7 L742.5,533.2 L745.4,535.1 L744.4,538.1 L740.6,539 L739,541.9 L735.7,538.4 L731.8,537.1Z"/>
<path d="M729.9,550.7 L734.7,548.8 L739.6,544.9 L744.4,543.9 L749.3,541.6 L753.2,542.9 L752.2,546.8 L748.3,549.7 L744.4,553.6 L739.6,557.5 L736.7,561.4 L737.6,564.3 L734.7,567.2 L733.8,564.3 L735.7,560.4 L732.8,557.5 L729.9,553.6Z"/>
<path d="M774.6,561.8 L775.6,569.2 L777.1,576.9 L777.5,582.8 L774.6,587.6 L770.7,591.5 L765.8,592.5 L761,589.6 L757.1,584.7 L752.2,580.8 L747.4,576.9 L744.4,572.7 L740.6,575 L735.7,577.9 L730.8,581.8 L727.9,587.6 L726.6,594.4 L725,602.2 L725,610 L726.6,617.8 L728.9,626.5"/>
<path d="M728.9,626.5 L730.8,633.3 L732.8,641.1 L734.7,646.9 L736.7,651.8"/>
<path d="M226,637.8 L228.9,632.9 L226.9,629 L221.1,631 L213.3,633.9 L205.6,636.8 L198.8,641.7 L201.7,645.6 L205.6,648.5 L202.6,651.4 L195.8,652.4 L188.1,650.4 L180.3,649.4 L173.5,649.4 L170.6,653.3 L171.5,658.2 L167.6,661.1 L169.6,665 L166.7,668.9 L163.8,670.8 L166.7,676.7 L171.5,680.6 L176.4,683.5 L181.2,685.4 L176.4,689.3 L171.5,694.2 L167.6,700"/>
<path d="M167.6,700.1 L164.7,702.2 L167.6,704.2 L161.8,707.1 L155,709 L149.2,710 L146.2,713.9 L149.2,716.8 L145.3,719.7 L148.2,724.6 L152.1,727.5 L155,731.4 L159.9,734.3 L166.7,736.2 L174.4,736.2 L180.3,734.3 L186.1,731.4 L192.9,730.4 L197.8,727.5 L203.6,726.5 L209.4,725.6 L215.3,727.5 L221.1,728.5 L223.1,723.6 L226,717.8 L228.9,711.9 L231.8,704.2 L234.3,700.1"/>
<path d="M238.6,673.8 L236.7,680.6 L235.7,688.3 L234.7,694.2 L234.3,700"/>
<path d="M816.7,1184.4 L824.4,1178.9 L833.3,1176.7 L842.2,1178.9 L851.1,1182.2 L860,1185.6 L862.2,1188.9 L866.7,1193.3 L872.2,1195.6 L871.1,1198.9 L864.4,1200 L858.9,1197.8 L854.4,1198.9 L858.9,1205.6 L863.3,1213.3 L866.7,1221.1 L868.4,1227.8 L863.3,1225.6 L857.8,1218.9 L853.3,1215.6 L851.1,1222.2 L850,1230 L846.7,1226.7 L843.3,1218.9 L838.9,1214.4 L835.6,1217.8 L833.3,1224.4 L831.1,1221.1 L828.9,1213.3 L825.6,1205.6 L821.1,1198.9 L816.7,1194.4 L812.2,1191.1Z"/>
<path d="M855.6,1150 L862.2,1151.1 L870,1155.6 L877.8,1158.9 L884.4,1164.4 L890,1171.1 L886.7,1172.2 L880,1167.8 L873.3,1163.3 L866.7,1161.1 L860,1156.7 L854.4,1153.3Z"/>
<path d="M884.4,1254.4 L891.1,1251.1 L897.8,1252.2 L901.1,1255.6 L908.9,1254.4 L917.8,1253.3 L926.7,1252.9 L935.6,1253.3 L944.4,1252.2 L951.1,1250 L954.4,1252.2 L953.3,1256.7 L946.7,1258.9 L937.8,1261.1 L928.9,1263.3 L922.2,1264.4 L917.8,1267.1 L915.6,1264 L906.7,1263.3 L897.8,1262.2 L888.9,1262.7 L884,1261.1Z"/>
<path d="M768.9,1138.9 L773.3,1137.8 L776.7,1142.2 L780,1147.8 L778.9,1150 L774.4,1146.7 L771.1,1143.3Z"/>
<path d="M792.2,1181.1 L796.7,1178.9 L800,1183.3 L798.9,1187.8 L794.4,1186.7Z"/>
<path d="M800,1194.4 L804.4,1195.6 L806.7,1198.9 L803.3,1199.6Z"/>
<path d="M881.1,1090 L885.6,1088.9 L886.7,1093.3 L882.2,1095.1Z"/>
<path d="M905.6,1092.9 L908.9,1091.8 L910.7,1094.4 L907.1,1095.6Z"/>
<path d="M897.3,1110.7 L902.2,1108.9 L905.6,1110 L904.4,1114.4 L898.9,1115.6Z"/>
<path d="M921.1,1128.9 L926.7,1124.4 L933.3,1124 L937.8,1128.9 L935.6,1133.3 L928.9,1135.1 L923.3,1132.9Z"/>
<path d="M925.6,1151.1 L930,1148.9 L932.2,1153.3 L930.7,1161.1 L927.8,1162.2 L926.2,1156.7Z"/>
<path d="M947.8,1172.2 L953.3,1169.3 L957.8,1171.1 L954.4,1173.8Z"/>
<path d="M933.8,1180.4 L940,1176 L941.8,1177.3 L936,1181.8Z"/>
<path d="M984.4,1213.3 L988.9,1207.8 L994.4,1202.7 L995.6,1206.7 L992.2,1214.4 L987.8,1221.1 L985.6,1217.8Z"/>
<path d="M971.1,1238.9 L973.3,1228.9 L974.7,1238.9 L972.4,1240.4Z"/>
<path d="M962.2,1198.9 L968.9,1194.4 L970.2,1196.7 L964.4,1201.3Z"/>
<path d="M921.1,1196.7 L924.4,1195.6 L925.6,1200 L922.2,1202.2Z"/>
<path d="M914.4,1199.6 L917.3,1197.8 L918.2,1201.1 L915.6,1202.7Z"/>
<path d="M899.6,1174.4 L902.2,1173.8 L907.1,1178.9 L905.6,1180.4Z"/>
<path d="M907.8,1182.2 L912.9,1184 L913.8,1186.2 L908.9,1184.9Z"/>
<path d="M863.3,1232.9 L866.7,1233.8 L868.4,1237.8 L864.9,1237.3Z"/>
<path d="M888.4,1146.2 L892.2,1145.6 L893.8,1149.3 L890.7,1150.2Z"/>
<path d="M896.7,1213.8 L900.4,1212.4 L901.3,1215.6 L897.8,1216.4Z"/>
<path d="M615,974.2 L617.9,969.3 L615,966.4 L609.2,965.4 L603.3,967.4 L595.6,971.2 L589.7,974.2 L584.9,977.1 L582.9,981 L586.8,984.9 L589.7,988.8 L586.8,993.6 L585.8,999.4 L587.8,1007.2 L591.7,1013.1 L597.5,1017.9 L604.3,1023.8 L611.1,1029.6 L616.9,1034.4 L620.8,1042.2 L624.7,1050 L628.6,1057.8 L634.4,1063.6 L640.3,1069.4 L646.1,1074.3 L653.9,1078.2 L663.6,1081.1 L673.3,1081.1 L678.2,1082.1"/>
<path d="M614.1,973.6 L614.6,980.4 L617,986.2 L619.4,991.1 L621.9,993.5 L624.8,989.2 L627.2,985.3 L628.7,981.4 L629.7,978.5 L632.1,977 L636,979.4 L638.9,984.3 L641.8,989.2 L643.8,993.1 L646.7,997.9 L650.6,1001.8 L654,1005.7 L655.4,1008.1 L653,1010.6 L654,1014.4 L656.4,1018.3 L659.3,1021.2 L663.2,1024.2 L667.1,1027.1 L670,1031 L673.9,1032.4 L677.8,1031.5 L682.6,1031.9 L687.5,1033.4 L692.4,1035.8 L697.2,1038.8 L702.1,1042.6 L706.9,1045.6 L711.8,1047.5 L716.7,1050.4 L721.5,1053.3 L726.4,1055.8 L731.4,1054.9"/>
<path d="M281.1,924.4 L285.6,930 L290,934.4 L293.3,940 L294.4,947.8 L292.2,953.3 L294.4,957.8 L296.7,963.3 L292.2,958.9 L288.9,964.4 L286.7,973.3 L285.6,982.2 L282.2,991.1 L278.9,1000 L275.6,1008.9 L271.1,1015.6 L265.6,1021.1"/>
</g>
<path d="M336,1056 L338.9,1052.9 L342.2,1054.4 L342.7,1057.8 L338.9,1058.9Z" fill="#fff" stroke="#111" stroke-width="0.9"/>
<g fill="none" stroke="#7d8597" stroke-width="0.7">
<path d="M630.1,982.4 L632.1,989.2 L633.5,994 L634.5,997.9 L633.1,998.4 L631.6,993.1 L629.7,986.2Z"/>
<path d="M637.4,981.9 L639.9,985.3 L641.8,989.2 L642.8,992.1 L641.3,993.1 L639.4,989.2 L637.4,985.3Z"/>
<path d="M642.3,997.4 L645.7,1000.8 L648.6,1003.8 L650.6,1006.7 L649.1,1007.6 L646.2,1004.2 L642.8,999.9Z"/>
<path d="M629.9,997.7 L631.3,998.1 L631.5,999.9 L630.1,999.7Z"/>
<path d="M635,1001.8 L637.4,1002.6 L637.2,1003.6 L635,1003Z"/>
<path d="M639.9,1005.5 L642.8,1006.1 L642.6,1007.1 L639.9,1006.5Z"/>
<path d="M642.8,1009.4 L645.7,1010.4 L645.5,1011.3 L642.8,1010.4Z"/>
<path d="M647.6,1013.5 L650.6,1016.4 L654,1020.3 L655.9,1022.7 L654.9,1023.7 L652,1020.8 L648.6,1017.4 L647.2,1014.9Z"/>
<path d="M658.3,1025.1 L659.8,1025.5 L659.9,1026.7 L658.5,1026.3Z"/>
<path d="M663.2,1026.1 L664.7,1026.5 L664.8,1027.7 L663.4,1027.3Z"/>
<path d="M682.6,1034.9 L687.5,1034.9 L691.4,1035.8 L690.4,1037.3 L685.6,1037.3 L682.6,1036.3Z"/>
<path d="M682.6,1040.2 L687.5,1040.7 L693.3,1040.7 L697.2,1041.2 L693.3,1042.2 L687.5,1042.2 L683.1,1041.5Z"/>
<path d="M672.9,1047.5 L675.8,1045.1 L677.8,1044.6 L678.3,1046 L675.3,1047.5Z"/>
<path d="M688.5,1047 L693.3,1046 L698.2,1044.6 L702.1,1044.1 L701.1,1045.6 L696.2,1047 L691.4,1048.5 L688.5,1048.5Z"/>
<path d="M697.2,1044.6 L703.1,1045.6 L708.9,1047 L714.7,1048.5 L715.7,1049.4 L709.9,1049 L703.1,1047.5Z"/>
<path d="M704,1050.9 L708.9,1051.4 L713.3,1052.4 L712.8,1053.3 L707.9,1052.7 L704.2,1051.9Z"/>
<path d="M691.9,1052.8 L694.8,1052.8 L694.8,1054.3 L692.2,1054.1Z"/>
</g>
<g fill="none" stroke="#8a8f9c" stroke-width="0.8" stroke-dasharray="2.2 1.6">
<path d="M436.8,738.2 L437.8,731.4 L443.6,726.5 L453.3,723.6 L465,721.3 L474.7,718.8 L484.4,715.8 L494.2,713.5 L500.4,714.9"/>
<path d="M504.9,693.5 L504.3,684.7 L507.4,676.9 L508.8,669.2 L506.8,662.9"/>
</g>
<circle cx="590.5" cy="1022.5" r="1.6" fill="#111"/><circle cx="592.5" cy="1086.3" r="1.3" fill="#111"/>
<g fill="none" stroke="#fff" stroke-width="1.5">
<path d="M1202.5,902.5 L1202.5,896.2 L1215,895 L1230,892.5 L1245,890 L1260,886.2 L1275,885 L1287.5,886.2 L1290,890 L1297.5,885 L1305,878.8 L1315,875 L1327.5,874.5 L1332.5,878.8 L1333.8,882.5 L1345,883.8 L1353.8,883"/>
<path d="M1353.8,883 L1362.5,881.2 L1370,882.5 L1380,886.2 L1390,888.8 L1392.5,880 L1396.2,870 L1397.5,862"/>
<path d="M1353.8,883 L1351.2,890 L1357.5,893.8 L1366.2,896.2 L1367.5,902.5 L1362.5,905 L1352.5,906.2 L1340,907.5 L1335,912.5 L1332.5,917"/>
<path d="M1332.5,917 L1325,921.2 L1317.5,926.2 L1310,931.2 L1302.5,937"/>
<path d="M1332.5,917 L1337.5,922.5 L1345,920 L1351.2,926.2 L1352.5,932.5 L1362.5,935 L1366.2,940 L1365,946.2 L1372.5,948.8 L1380,951.2 L1387.5,950 L1391.2,955 L1392.5,961.2 L1388.8,970 L1386.2,973.8"/>
<path d="M1348.8,965.5 L1352.5,960 L1362.5,958.8 L1370,956.2 L1375,960 L1380,966.2 L1386.2,973.8"/>
<path d="M1348.8,965.5 L1357.5,970 L1367.5,975 L1377.5,976.2 L1387.5,973.8 L1397.5,966.2 L1402.5,955 L1407.5,942.5 L1412.5,932.5 L1416.2,928.8 L1426.2,930 L1428.8,936.2 L1432.5,942.5 L1435,951.2 L1440,952.5"/>
<path d="M1380,1036.2 L1385,1045 L1392.5,1051.2 L1400,1056.2 L1407.5,1063.8 L1417.5,1062.5 L1428.8,1059.5 L1431.2,1061.2 L1427.5,1067.5 L1430,1075 L1435,1080 L1432.5,1090 L1430,1102.5 L1432.5,1112.5 L1436.2,1121.2 L1437.5,1130 L1438,1140"/>
<path d="M1440,488.8 L1428.8,490 L1415,491.2 L1405,496.2 L1401.2,502.5 L1392.5,507.5 L1385,513.8 L1381.2,523.8 L1373.8,532.5 L1363.8,538.8 L1362.5,548.8 L1360,548.8 L1358.8,541.2 L1347.5,541.2 L1337.5,540 L1327.5,541.2 L1317.5,546.2 L1306.2,546.2 L1300,553.8 L1290,557.5 L1282.5,562.5 L1281.2,572.5 L1277.5,582.5 L1271.2,592.5 L1270,602.5 L1266.2,612.5 L1277.5,625 L1278.8,631.2 L1272.5,636.2 L1263.8,635 L1255,631.2 L1248.8,632.5 L1248,642.5 L1252.5,652.5 L1250,660 L1257.5,670 L1260,682.5 L1261.2,695 L1270,696.2 L1277.5,701.2 L1280,706.2 L1287.5,706.2 L1297.5,701.2 L1307.5,702.5 L1317.5,708.8 L1326.2,715 L1331.2,720 L1323.8,722.5 L1327.5,725 L1342,726.2"/>
<path d="M1080,726.2 L1090,722.5 L1100,723.8 L1110,721.2 L1120,723.8 L1130,722.5 L1133.8,730 L1131.2,740 L1136.2,743.8 L1133.8,752.5 L1141.2,757.5 L1143.8,765 L1142.5,775 L1133.8,782.5 L1126.2,788.8 L1121.2,795 L1120,800"/>
<path d="M1440,306.2 L1433.8,310 L1432.5,320 L1426.2,332.5 L1418.8,345 L1412.5,357.5 L1407.5,366.2 L1400,372.5 L1392.5,380 L1391.2,387.5 L1396.2,393.8 L1405,391.2 L1405,398.8 L1415,396.2 L1422.5,400 L1415,405 L1411.2,412.5 L1413.8,422.5 L1421.2,428.8 L1423.8,437.5 L1422.5,445 L1426.2,455 L1430,465 L1427.5,475 L1435,485 L1440,488.8"/>
<path d="M847.5,602.5 L852.5,600 L862.5,601.2 L870,600 L876.2,605 L881.2,600 L890,599.5 L900,603.8 L903.8,612.5 L905,622.5 L911.2,630 L917.5,636.2 L925,642.5 L932.5,646.2 L935,652.5 L945,655 L952.5,658.8 L951.2,666.2 L945,671.2 L936.2,672.5 L931.2,677.5 L933.8,685 L941.2,691.2 L945,700 L950,703.8"/>
<path d="M950,703.8 L942.5,705 L932.5,708.8 L931.2,720 L930,730 L933.8,735 L927.5,736.2 L922.5,732.5 L915,732.5 L905,733.8 L897.5,737.5 L887.5,737.5 L880,743.8 L872.5,742.5 L865,740 L855,738.8 L845,740 L835,741.2 L825,742.5 L815,747.5 L807.5,753.8 L800.8,757.5"/>
<path d="M950,703.8 L955,701.2 L957.5,695 L965,693.8 L972.5,688.8 L980,686.2 L987.5,687.5 L993.8,693.8 L998.8,700 L1001.2,707.5 L1007.5,712.5 L1015,713.8 L1022.5,711.2 L1027.5,717.5 L1031.2,725 L1037.5,731.2 L1045,727.5 L1051.2,730 L1057.5,726.2 L1065,721.2 L1071.2,717.5 L1077.5,723.8"/>
<path d="M220,1274 L225,1280 L227.5,1290"/>
<path d="M500,1239.5 L495,1247.5 L488.8,1256.2 L491.2,1265 L490,1275 L491.2,1290"/>
<path d="M1326.1,1064.4 L1320.6,1075.6 L1312.2,1086.7 L1310.8,1097.8 L1317.8,1111.7 L1323.3,1128.3 L1326.1,1142.2 L1324.7,1156.1 L1315,1170 L1303.9,1186.7 L1292.8,1200.6 L1281.1,1212.2"/>
<path d="M1281.1,1212.2 L1270.6,1224.2 L1259.4,1236.7 L1248.3,1250.6 L1240,1260.3 L1228.9,1263.1 L1217.8,1260.3 L1210.8,1261.7"/>
<path d="M1281.1,1212.2 L1288.6,1225.6 L1296.9,1238.1 L1303.9,1242.2"/>
<path d="M1303.9,1242.2 L1298.3,1250.6 L1287.2,1261.7 L1273.3,1271.4 L1262.2,1279.7 L1253.9,1283.9 L1259.4,1288.1 L1262.2,1290.8"/>
<path d="M1303.9,1242.2 L1317.8,1239.4 L1334.4,1237.2 L1351.1,1239.4 L1367.8,1242.2 L1387.2,1246.4 L1406.7,1251.9 L1423.3,1256.1 L1440,1260"/>
<path d="M1198.3,1211.7 L1206.7,1200.6 L1213.6,1197.8 L1217.8,1204.7 L1216.4,1214.4 L1209.4,1225.6 L1205.3,1236.7 L1202.5,1245 L1192.8,1250.6"/>
<path d="M1202.5,1245 L1206.7,1256.1 L1209.4,1264.4 L1208.1,1275.6 L1210.8,1290.8"/>
<path d="M1195.6,1270 L1203.9,1268.6 L1208.1,1276.9 L1203.9,1290.8"/>
<path d="M772.6,1042.2 L776.1,1038.3 L779,1032.5 L781.9,1027.6 L785.8,1031.5 L791.7,1034.4 L797.5,1038.3 L803.3,1040.3 L806.2,1044.2 L805.3,1050 L803.9,1054.3"/>
<path d="M881.8,846.7 L888.6,841.8 L896.4,838.5 L904.2,838.9 L911.9,841.2 L919.7,843.2 L925.6,842.4 L931.4,845.7 L936.2,851.5 L937.2,858.3 L943.1,864.2 L948.9,869 L952.8,873.9 L958.6,877.8 L961.5,883.6 L963.5,887.5 L956.7,889.4 L950.8,890.4 L946,889.4 L943.1,893.3 L942.1,899.2 L942.7,906.9 L940.1,914.7 L937.2,920.6 L937.2,927.4"/>
</g>
<g fill="none" stroke="#0a0a0a" stroke-width="1.5">
<path d="M745.3,208.3 L748.9,206.7 L749.4,200.6 L750.6,196.7 L754.4,193.3 L755.6,190 L757.8,187.2 L762.2,185.6 L762.8,181.7"/>
<path d="M657.8,226.3 L659.3,222.5 L660.8,218.7 L664.7,218.7 L667.7,222.5 L671.5,227.1 L676.1,231.7 L682.2,233.2 L688.3,232.4 L692.2,227.8 L706.7,230.6 L709.4,222.2 L711.1,211.1 L710,197.8 L712.2,187.8 L718.9,184.4 L726.7,178.3 L734.4,184.4 L743.3,188.9 L745.6,195.6 L746.4,202.2 L745.3,208.3"/>
<path d="M745.3,208.3 L744.4,212.2 L747.2,212.8 L747.2,217.8 L748.3,224.4 L752.2,230 L758.9,234.4 L765.6,240 L772.2,244.4 L772.8,250 L771.7,255.6 L769.4,262.2 L767.8,268.9 L771.1,273.3 L776.7,280 L783.8,287.5 L788.8,295 L792.5,302.5 L790,307.5 L793.8,315 L795,322.5 L795,328.8 L801.2,331.2 L803.8,338.8 L811.2,345 L814.5,351.2 L812.5,358.8 L817.5,365 L827.5,370 L836.2,376.2 L840,380 L839.5,390 L836.2,402.5 L832.5,412.5 L827.5,425 L822.5,437.5 L817.5,450 L811.2,462.5 L807.5,468.8"/>
<path d="M657.8,226.3 L655.5,230.1 L653.2,237.8 L651.7,245.4 L645.6,246.2 L636.4,246.2 L631,247.7 L629.5,253.8 L628,261.5 L621.1,262.2 L616.5,269.9 L612.7,277.5 L610.4,282.8 L612.7,290.5 L610.4,298.9 L606.6,306.5 L603.5,314.2 L601.2,322.6 L594.4,324.9 L592.8,332.5 L594.4,341.7 L592.8,350.8 L592.1,360"/>
<path d="M586.2,362.5 L585.5,373.8 L591.2,377.5 L591.2,385 L585,390 L577.5,393.8 L570,400 L567.5,400"/>
<path d="M558.6,553.6 L561.5,549.7 L562.5,540 L562.1,532.2 L564.4,524.4 L570.3,521.5 L573.2,516.7 L574.2,508.9 L573.2,501.1 L571.2,493.3 L570.3,487.5 L575.1,484.6 L577.1,477.8 L575.1,471.9 L570.3,466.1 L567.9,458.3 L567.4,448.6 L566.4,438.9 L565.4,429.2 L564.4,419.4 L565.4,409.7 L567.4,400"/>
<path d="M657.8,226.3 L660.1,228.6 L665.4,233.2 L670,237.8 L673.8,240.8 L680.7,242.4 L686.8,245.4 L691.4,250 L695.2,256.1 L696.7,263.8 L699.8,269.9 L701.3,277.5 L705.1,284.4 L708.2,290.5 L709,298.9 L712,306.5 L715.8,314.2 L718.1,319.1"/>
<path d="M265.6,1021.1 L271.1,1025.6 L273.3,1031.1 L280,1035.6 L287.8,1040 L295.6,1043.3 L302.2,1046.7 L310,1047.8 L317.8,1048.9 L321.1,1045.6 L327.8,1047.8 L333.3,1051.1 L336.7,1054.4 L342.2,1056.7 L347.8,1060 L353.3,1062.2 L360,1063.3 L366.7,1062.7 L374.4,1062.7"/>
<path d="M98,1031.2 L105,1028.8 L112.5,1028.8 L113.8,1033.8 L112.5,1037.5 L120,1038.8 L126.2,1040 L133.8,1041.2 L140,1040 L147.5,1042.5 L148.8,1048.8 L151.2,1053.8 L155,1056.2 L151.2,1062.5 L143.8,1065 L136.2,1070 L135,1080 L133.8,1087.5 L128.8,1093.8 L128.8,1102.5 L123.8,1108.8 L112.5,1108.8 L116.2,1116.2 L117.5,1123.8 L121.2,1130 L117.5,1137.5 L112.5,1142.5 L110,1150 L111.2,1156.2 L115,1158.8 L110,1161.2 L105,1167.5 L100,1173.8 L99.5,1185"/>
<path d="M484.4,909.3 L483.5,900.6 L484.4,890.8 L486.4,881.1 L489.3,873.3 L494.2,867.5 L497.1,864.6 L492.2,862.6 L486.4,860.7 L480.6,858.8 L474.7,859.3 L470.8,856.8 L465,851.9 L464,850"/>
<path d="M612.8,709 L614.7,715.8 L616.7,723.6 L617.6,729.4 L614.7,737.2 L613.8,742.1 L618.6,748.9 L621.5,756.7 L623.5,764.4 L624.4,772.2 L627.4,780 L630.3,785.8 L632.2,791.7 L632.2,799.4 L631.8,802.9"/>
<path d="M631.8,802.9 L626.4,802.4 L623.5,798.5 L619.6,800.4 L621.5,804.3 L614.7,807.2 L606.9,811.1 L600.1,815 L593.3,817.9 L587.5,820.8 L581.7,823.8 L576.8,822.8 L579.7,828.6 L582.6,834.4 L585.6,842.2 L588.5,850 L593.3,855.8 L599.2,861.7 L605,866.5 L610.8,870.4 L612.8,872.4"/>
<path d="M714.6,680.8 L725.3,681.2 L736.9,680.8 L748.6,679.9 L758.3,677.9 L766.1,676 L769,675"/>
<path d="M769,675 L774.9,676.9 L779.7,679.9 L784.6,686.3"/>
<path d="M784.6,686.3 L787.5,694.4 L792.4,704.2 L796.2,712.9 L798.2,721.7 L793.3,727.5 L789.4,733.3 L788.5,739.2 L795.3,743.1 L798.2,750.8 L800.7,757.6"/>
<path d="M800.7,757.6 L804,766.4 L808.9,776.1 L812.8,780 L812.8,787.8 L809.9,795.6 L805,803.3 L800.1,811.1 L795.3,818.9 L792.4,826.7 L796.2,834.4 L798.8,839.9"/>
<path d="M798.8,839.9 L791.4,839.3 L783.6,838.3 L776.8,834.4 L771,832.5 L764.2,834.4 L758.3,836.4 L752.5,837.4 L746.7,840.3 L740.8,844.2 L736,844.2 L734,838.3 L729.2,834.4 L726.2,833.5 L723.3,838.3 L720.4,840.3 L715.6,838.3"/>
<path d="M715.6,838.3 L713.6,833.5 L709.7,831.5 L707.8,826.7 L701.9,824.7 L696.1,823.8 L694.2,820.8 L690.3,819.9 L688.3,816 L684.4,816 L679.6,814 L674.7,813.1 L672.8,816.9 L673.8,820.8 L668.9,822.8 L666,818.9 L662.1,815 L660.1,811.1 L658.2,807.2 L653.3,807.2 L648.5,805.3 L643.6,804.3 L638.8,801.4 L634.9,798.5 L631.9,802.4"/>
<path d="M715.6,838.3 L711.7,844.2 L705.8,848.1 L701,852.9 L696.1,856.8 L690.3,859.7 L684.4,861.7 L679,864.6"/>
<path d="M521.7,908.4 L526.5,913.9 L533.3,914.9 L539.2,917.8 L544,914.9 L545,911 L550.8,912.9 L556.7,913.9 L564.4,911.9 L572.2,909 L580,907.1 L587.8,906.1 L595.6,906.1 L598.5,909 L599.1,904.2 L596.5,898.3 L593.6,892.5 L597.5,887.6 L603.3,883.8 L607.2,877.9 L613.1,876 L613.1,872.5"/>
<path d="M613.1,872.5 L617.9,874 L624.7,872.1 L631.5,870.1 L636.4,865.3 L638.3,861.4 L646.1,862.4 L653.9,864.3 L661.7,866.2 L669.4,866.2 L677.2,867.2 L679,864.7"/>
<path d="M679,864.7 L679.2,871.1 L680.1,878.9 L683.1,885.7 L684.6,889.6"/>
<path d="M789.1,862.6 L788.5,855.8 L790.4,848.1 L792.4,842.2 L798.8,839.9"/>
<path d="M788.9,862.6 L783.9,864.3 L778.1,862.4 L772.2,860.4 L766.4,861 L760.6,862.4 L754.7,865.3 L750.8,869.2 L746,874 L741.1,876 L735.3,876.9 L731.4,880.8 L725.6,882.4 L720.7,885.7 L718.8,889.6 L713.9,892.5 L706.1,894.1 L698.3,892.9 L690.6,890.9 L685.3,889.6"/>
<path d="M804.3,872.1 L799.4,869.2 L793.6,865.3 L788.9,862.6"/>
<path d="M685.3,889.6 L683.8,894.4 L676.9,898.3 L672.1,900.3 L675,905.1 L673.1,911.9 L672.1,917.8 L670.1,923.6 L672.1,927.5 L672.1,932.4"/>
<path d="M470.1,961.5 L467.2,964.4 L466.2,969.3 L469.2,974.2 L470.1,980 L465.3,982.9 L460.4,984.9 L463.3,990.7 L467.2,993.6 L468.2,998.5 L465.3,1002.4 L464.3,1007.2 L469.2,1011.1 L474,1014 L480.8,1016 L481.8,1019.9 L478.9,1024.7 L476,1028.2"/>
<path d="M545,932.9 L548.9,933.3 L554.7,932.4 L560.6,929.4 L568.3,928.5 L576.1,927.5 L581,925.6 L582.9,930.4 L586.8,934.3 L593.6,937.2 L601.4,939.2 L609.2,940.1 L613.4,942.7"/>
<path d="M613.4,942.7 L618.9,941.1 L626.7,941.5 L634.4,941.1 L640.3,938.2 L646.1,935.3 L651.9,934.3 L657.8,933.3 L663.6,931.4 L666.5,927.5 L670.4,929.4 L671.8,932.9"/>
<path d="M671.8,932.9 L673.3,937.2"/>
<path d="M613.4,942.7 L611.1,946.9 L610.1,952.8 L612.1,958.6 L614,964.4 L617.9,968.3 L618.9,972.2 L615,974.2"/>
<path d="M614.1,973.6 L620.9,974.6 L624.3,971.7 L632.5,970.3 L636.4,966.4 L642.2,969.3 L649,970.3 L651,964.4 L653.9,960.6 L658.8,956.7 L657.8,952.8 L661.7,948.9 L666.5,945 L670.4,941.1 L673.3,937.2"/>
<path d="M673.4,937.2 L678.9,941.1 L685.7,946 L692.5,950.8 L700.3,954.3 L708.1,956.3 L716.8,956.3 L723.6,953.8 L729.8,950.4"/>
<path d="M760.2,941.1 L766.4,937.2 L772.2,933.3 L777.1,928.5 L780,921.7 L782.9,913.9 L784.9,906.1 L787.8,898.3 L790.7,890.6 L793.6,883.8 L798.5,879.9 L803.3,876 L804.3,872.1"/>
<path d="M881.8,848.6 L888.6,853.5 L895.4,861.2 L902.2,868.1 L910,874.9 L917.8,881.7 L923.6,889.4 L926.5,899.2 L926.5,908.9 L929.4,916.7 L930.4,923.5 L935.3,926.4 L937.2,927.4"/>
<path d="M937.2,927.4 L943.1,930.3 L946.9,929.3 L950.8,925.4 L956.7,922.1 L962.5,922.5 L966.4,927.4"/>
<path d="M729.8,950.4 L735.3,946 L741.1,942.1 L747.9,940.1 L754.7,939.6 L760.2,941.1"/>
<path d="M818.5,991.7 L814,987.8 L816,982.9 L818.9,980 L813.1,978.1 L809.2,981 L804.3,983.9 L798.5,982.9 L793.6,979 L790.7,974.2 L789.7,968.3 L785.8,964.4 L780,961.5 L774.2,956.7 L770.3,951.8 L766.4,946.9 L762.5,943.1 L760.2,941.1"/>
<path d="M729.8,950.4 L730.4,956.7 L733.3,962.5 L735.3,968.3 L739.2,970.3 L738.2,974.2 L740.1,980.4"/>
<path d="M824.3,1048.4 L822.8,1042.2 L820.8,1036.4 L823.8,1031.5 L828.6,1027.6 L832.1,1022.8 L828.6,1017.9 L824.7,1013.1 L820.8,1008.2 L817.3,1003.3 L817.9,997.5 L818.5,991.7"/>
<path d="M818.5,991.7 L821.8,993.6 L824.7,997.5 L829.6,1000.4 L838.3,999.4 L848.1,998.5 L857.8,999.4 L867.5,997.5 L877.2,995.6 L886.9,993.6 L894.7,988.8 L900.6,983.9 L906.4,979 L914.2,975.1 L920,973.2 L923.6,974 L929.4,974 L935.3,973.1 L941.1,976 L946.9,977.9 L953.2,977.9"/>
<path d="M953.2,1034.9 L946.9,1037.2 L941.1,1036.2 L935.3,1036.2 L929.4,1038.2 L923.6,1042.1 L919.7,1046 L916.8,1051.4"/>
<path d="M840.7,1077.6 L846.7,1075.6 L853.3,1073.3 L861.1,1071.1 L868.9,1067.8 L875.6,1066.7 L882.2,1070 L891.1,1071.1 L900,1070 L906.7,1067.8 L912.2,1065.6 L915.6,1061.1 L912.2,1056.7 L913.3,1053.3 L917.8,1051.8"/>
<path d="M917.8,1051.8 L923.3,1055.6 L925.6,1060 L923.3,1066.7 L921.1,1073.3 L920.4,1078.9 L917.3,1084"/>
<path d="M740.1,980.4 L735.3,981 L729.4,980 L723.6,977.1 L717.8,976.1 L711.9,978.1 L706.1,977.1 L698.3,976.1 L690.6,977.1 L683.8,979 L676.9,981.9 L672.1,981 L665.3,978.1 L663.7,979 L662.7,983.3 L663.7,989.2 L667.1,993.1 L670,996.9 L671.9,1000.8 L673.9,1004.7 L674.4,1008.1 L677.8,1011.5 L681.7,1015.4 L685.6,1019.3 L689.4,1023.2 L693.3,1027.1 L697.2,1030 L701.1,1033.9 L703.1,1037.8 L706,1040.7 L709.9,1043.6 L712.8,1046.5 L716.7,1049.4 L720.6,1051.9 L725.4,1054.3 L730.3,1055.8 L731.4,1054.9"/>
<path d="M783.3,1140 L785.6,1133.3 L787.8,1128.9 L792.2,1124.4 L794.4,1115.6 L796.7,1108.9 L796.7,1101.1"/>
<path d="M796.7,1101.1 L804.4,1098.9 L813.3,1094.4 L821.1,1090 L828.9,1086.7 L836.7,1084.4 L840.7,1077.6"/>
<path d="M824.3,1048.4 L829.6,1053.9 L834.4,1059.7 L838.3,1065.6 L839.9,1073.3 L840.7,1077.6"/>
<path d="M803.9,1054.3 L809.2,1052.9 L815,1051 L820.8,1049.6 L824.3,1048.4"/>
<path d="M745.6,1024.3 L750.8,1027.6 L756.7,1031.5 L762.5,1034.4 L768.3,1037.4 L772.6,1042.2"/>
<path d="M740.1,980.4 L741.1,987.8 L740.1,995.6 L743.1,1001.4 L747.9,1007.2 L749.9,1010.1 L746,1013.1 L748.9,1016.9 L747.9,1021.8 L745.6,1024.3"/>
<path d="M803.9,1054.3 L799.4,1056.8 L793.6,1059.7 L787.8,1062.6 L784.5,1067.5"/>
<path d="M784.5,1067.5 L782.9,1075.3 L784.9,1083.1 L786.8,1090.8 L790.7,1096.7 L795.6,1100.9"/>
<path d="M772.6,1042.2 L769.3,1047.1 L768.3,1050.4"/>
<path d="M768.3,1050.4 L774.2,1055.8 L779,1060.7 L782.9,1064.6 L784.5,1067.5"/>
<path d="M768.3,1050.4 L764.4,1052.9 L759.6,1050 L756.7,1053.9 L753.8,1059.7 L752.8,1065.6 L754.7,1072.4"/>
<path d="M745.6,1024.3 L741.1,1028.6 L738.2,1031.5 L736.2,1034.4 L733.3,1038.3 L731.4,1044.2 L730.4,1050 L731.4,1054.9"/>
<path d="M484.3,909.2 L490.6,908.1 L498.3,907.1 L502.2,904.2 L506.1,903.2 L507.1,907.1 L513.9,907.1 L521.7,908.4"/>
<path d="M521.7,908.4 L525.6,912.9 L526.5,919.7 L524.6,925.6 L529.4,928.5 L535.3,931.4 L540.1,930.4 L543.1,929.4 L545,932.9"/>
<path d="M545,932.9 L544,938.2 L541.1,941.1 L537.2,945 L536.2,950.8 L533.3,947.9 L528.5,946 L523.6,945 L520.7,949.9 L516.8,954.7 L513.9,960.6 L511.9,964.4 L510,960.6 L509,956.7 L505.1,954.7 L502.2,950.8 L500.3,946.9 L497.4,948.9 L493.5,953.8 L488.6,956.7 L481.8,958.6 L476,959.6 L470.1,961.5"/>
<path d="M470.1,961.5 L467.2,956.7 L465.3,950.8 L459.4,947.9 L453.6,948.9 L449.7,951.8 L446.8,950.8 L450.7,946 L454.6,941.1 L458.5,933.3 L461.4,927.5 L466.2,921.7 L470.1,916.8 L469.2,912.9 L474,911 L479.9,910.4 L484.3,909.2"/>
<path d="M456.8,807.2 L455.3,799.4 L459.2,794.6 L456.2,789.7 L457.2,781.9 L459.2,775.1 L465,773.2 L471.8,772.2 L472.8,768.3 L471.8,764.4 L476.7,761.5 L477.6,756.7 L472.8,752.8 L476.7,749.9 L480.6,747.9 L481.5,741.1 L481.5,730.4"/>
<path d="M404.3,785.8 L407.6,787.8 L412.5,788.8 L418.3,786.8 L422.2,784.9 L427.1,783.9 L432.9,784.9 L437.8,786.8 L440.7,789.7 L443.6,791.7 L446.5,794.6 L449.8,797.5 L448.5,801.4 L447.9,806.2 L452.4,807.6 L456.8,807.2"/>
<path d="M387.6,793.6 L389.2,798.5 L394,802.4 L396,805.3 L399.9,806.2 L401.8,811.1 L407.6,814 L409.6,817.9 L415.4,820.8 L417.4,824.7 L416.4,829.6 L422.2,830.6 L428.1,829.6 L430,826.7 L431,832.5 L434.9,836.4 L439.7,841.2 L443.6,844.2 L448.5,845.1 L450.4,846.1"/>
<path d="M458.2,825.7 L461.1,820.8 L460.1,815 L456.2,811.1 L456.8,807.2"/>
<path d="M450.4,846.1 L449.1,840.3 L448.5,834.4 L451.4,829.6 L455.3,826.7 L458.2,825.7"/>
<path d="M464,850 L462.1,844.2 L463.1,838.3 L461.1,832.5 L458.2,825.7"/>
<path d="M450.4,846.1 L455.3,848.1 L460.1,849 L464,850"/>
<path d="M510.6,678.7 L516.7,679.4 L521.1,681.1 L523.3,681.7"/>
<path d="M826.1,560.4 L827.1,554.6 L829.6,549.7 L826.1,543.9 L823.2,538.1 L820.3,532.2 L816.4,526.4 L815.4,522.5 L818.3,516.7 L821.2,510.8 L823.2,506 L822.2,500.1"/>
<path d="M774.6,561.8 L779.4,557.5 L785.3,553.6 L789.2,554 L795,556.5 L800.8,558.5 L806.7,562.4 L811.5,564.9 L816.4,562.4 L821.2,560.4 L826.1,560.4"/>
<path d="M849.4,600.3 L848.5,591.5 L843.6,584.7 L837.8,579.9 L835.4,575 L835.8,567.2 L831.9,562.4 L826.1,560.4"/>
<path d="M827.1,621.7 L833.9,615.8 L841.7,613.9 L846.5,607.1 L849.4,600.3"/>
<path d="M728.9,626.5 L731.8,621.7 L736.7,617.4 L742.5,613.9 L750.3,613.5 L758.1,613.9 L761.9,611.9 L767.8,611 L775.6,610.4 L783.3,611 L787.2,609 L791.1,604.6 L795,608.1 L798.9,611 L806.7,611.9 L812.5,613.9 L818.3,616.8 L823.2,619.7 L827.1,621.7"/>
<path d="M736.7,651.8 L742.5,653.8 L748.3,656.3 L756.1,656.7 L761.9,657.1 L765.8,660.6 L766.8,668.3 L767.8,674.2 L768.8,675.1"/>
<path d="M827.1,621.7 L828.1,627.5 L831,632.4 L828.1,637.2 L824.2,643.1 L820.3,648.9 L818.3,656.7 L818.3,664.4 L819.3,668.3 L822.2,669.3 L821.2,672.2 L816.4,671.2 L812.5,673.2 L807.6,676.1 L803.1,680.8 L797.2,682.8 L790.4,684.7 L784.6,686.3"/>
<path d="M238.6,673.8 L231.8,670.8 L228.9,665 L226.9,661.1 L221.1,660.1 L215.3,663.1 L211.4,661.1 L208.5,656.2 L207.5,651.4 L213.3,650.4 L212.4,646.5 L217.2,645.6 L221.1,641.7 L226,637.8"/>
<path d="M1257,945 L1263.8,943.8 L1267.5,938.8 L1277.5,937.5 L1280,931.2 L1283.8,931.2 L1287.5,933.8 L1295,937.5 L1300,936.2 L1306.2,940 L1312.5,946.2 L1313.8,953.8 L1318.8,961.2 L1320,964.5 L1327.5,963.8 L1335,960 L1342.5,963.8 L1348.8,965.5 L1342.5,964.5 L1343,972.5 L1341.2,978.8 L1337.5,981.2 L1341.2,986.2 L1346.2,992.5 L1351.2,1000 L1355,1006.2 L1358.8,1006.2 L1358.8,1021.2 L1368.8,1022.5 L1371.2,1030 L1378.8,1032.5 L1380,1036.2"/>
<path d="M1187.2,1162.2 L1194.2,1161.7 L1195.6,1154.7 L1198.3,1149.2 L1202.5,1146.4 L1199.7,1140.8 L1196.9,1135.3 L1196.9,1128.3 L1206.7,1128.3 L1217.8,1124.2 L1228.9,1117.2 L1237.2,1111.7 L1245.6,1113.1 L1259.4,1108.9 L1270.6,1101.9 L1278.9,1093.6 L1287.2,1083.9 L1295.6,1078.3 L1303.9,1075.6 L1313.6,1068.6 L1320.6,1061.7 L1326.1,1064.4 L1330.3,1060.3 L1331.7,1054.7 L1340,1050.6 L1351.1,1047.8 L1359.4,1045 L1363.6,1040.8 L1369.2,1042.2 L1370.6,1047.8 L1374.7,1043.6 L1379.4,1036.7"/>
<path d="M804.3,872.1 L809.2,869.2 L816.9,870.1 L824.7,870.7 L832.5,869.2 L840.3,868.2 L846.1,870.1 L851,871.1 L855.8,866.2 L863.6,862.4 L871.4,858.5 L876.2,852.6 L882.1,849.7"/>
</g>
</g>
<rect x="1030" y="479.2" width="47.8" height="23.3" fill="#b8de29" stroke="#3c3c3c" stroke-width="0.9"/>
<text x="1092" y="498.8" font-size="21.8" class="t" textLength="60.5" lengthAdjust="spacingAndGlyphs">≥ 26.9</text>
<rect x="1030" y="511.6" width="47.8" height="23.3" fill="#35b779" stroke="#3c3c3c" stroke-width="0.9"/>
<text x="1092" y="531.2" font-size="21.8" class="t" textLength="124.2" lengthAdjust="spacingAndGlyphs">24.8 – &lt; 26.9</text>
<rect x="1030" y="544.1" width="47.8" height="23.3" fill="#26828e" stroke="#3c3c3c" stroke-width="0.9"/>
<text x="1092" y="563.7" font-size="21.8" class="t" textLength="124.2" lengthAdjust="spacingAndGlyphs">20.3 – &lt; 24.8</text>
<rect x="1030" y="576.5" width="47.8" height="23.3" fill="#31688e" stroke="#3c3c3c" stroke-width="0.9"/>
<text x="1092" y="596.1" font-size="21.8" class="t" textLength="124.2" lengthAdjust="spacingAndGlyphs">18.6 – &lt; 20.3</text>
<rect x="1030" y="609.0" width="47.8" height="23.3" fill="#3e4a89" stroke="#3c3c3c" stroke-width="0.9"/>
<text x="1092" y="628.6" font-size="21.8" class="t" textLength="124.2" lengthAdjust="spacingAndGlyphs">15.3 – &lt; 18.6</text>
<rect x="1030" y="641.5" width="47.8" height="23.3" fill="#440154" stroke="#3c3c3c" stroke-width="0.9"/>
<text x="1092" y="661.1" font-size="21.8" class="t" textLength="60.5" lengthAdjust="spacingAndGlyphs">&lt; 15.3</text>
<text x="1029.8" y="460.3" font-size="27.2" class="t" textLength="425" lengthAdjust="spacingAndGlyphs">Purchasing power standard (PPS)</text>
<text x="9.5" y="71.3" font-size="43.6" font-weight="bold" class="t" textLength="951.5" lengthAdjust="spacingAndGlyphs">Electricity prices for household consumers, 2022S2</text>
<text x="10.5" y="122.5" font-size="40.4" class="t" textLength="68" lengthAdjust="spacingAndGlyphs">PPS</text>
<text x="9.4" y="1315.3" font-size="19.3" class="t" textLength="474.5" lengthAdjust="spacingAndGlyphs">Measurement unit: Purchasing power standard (PPS)</text>
<text x="10" y="1340.8" font-size="19.3" class="t" textLength="338" lengthAdjust="spacingAndGlyphs">dataset nrg_pc_204, 2022 Semester 2</text>
<text x="821" y="1315.3" font-size="19.3" class="t" textLength="616" lengthAdjust="spacingAndGlyphs">Administrative boundaries: © EuroGeographics © UN–FAO © Turkstat</text>
<text x="820" y="1340.8" font-size="19.3" class="t" textLength="362" lengthAdjust="spacingAndGlyphs">Cartography: Eurostat – IMAGE, 04/2023</text>
</svg>
</body></html>
